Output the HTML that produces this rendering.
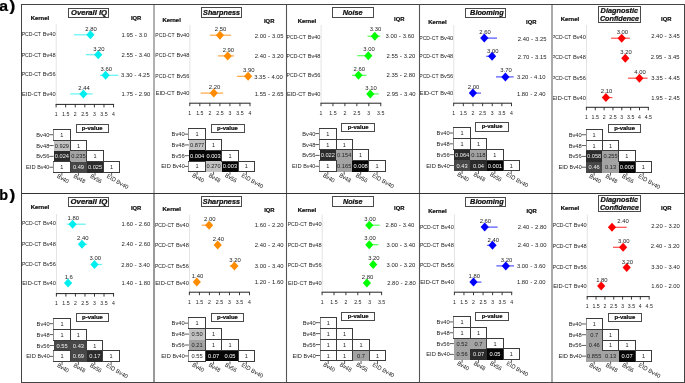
<!DOCTYPE html>
<html><head><meta charset="utf-8"><style>
html,body{margin:0;padding:0;background:#fff;overflow:hidden}
svg{display:block;will-change:transform;filter:blur(0.3px)}
text{font-family:"Liberation Sans", sans-serif} svg{fill:#222}
</style></head><body>
<svg width="685" height="383" viewBox="0 0 685 383">
<rect width="685" height="383" fill="#fff"/>
<line x1="56.20" y1="24.40" x2="56.20" y2="103.90" stroke="#e4e4e4" stroke-width="1"/>
<rect x="68.50" y="8.50" width="40.00" height="9.00" fill="#fff" stroke="#4a4a4a" stroke-width="1"/>
<g transform="translate(71.00,14.90) scale(0.1)"><text font-size="63.50" font-weight="bold" stroke="#111" stroke-width="2.20" font-style="italic" fill="#111" textLength="360.0" lengthAdjust="spacingAndGlyphs">Overall IQ</text></g>
<g transform="translate(30.70,20.00) scale(0.1)"><text font-size="53.00" font-weight="bold" stroke="#111" stroke-width="2.20" fill="#111" textLength="184.0" lengthAdjust="spacingAndGlyphs">Kernel</text></g>
<g transform="translate(130.90,20.20) scale(0.1)"><text font-size="53.00" font-weight="bold" stroke="#111" stroke-width="2.20" fill="#111" textLength="104.0" lengthAdjust="spacingAndGlyphs">IQR</text></g>
<g transform="translate(21.67,36.30) scale(0.1)"><text font-size="61.61" textLength="192.8" lengthAdjust="spacingAndGlyphs">PCD-CT</text></g>
<g transform="translate(42.73,36.30) scale(0.1)"><text font-size="61.61" textLength="128.7" lengthAdjust="spacingAndGlyphs">Bv40</text></g>
<line x1="74.00" y1="34.80" x2="90.40" y2="34.80" stroke="#60f2f2" stroke-width="1.2"/>
<path d="M86.30,34.80L90.40,30.30L94.50,34.80L90.40,39.30Z" fill="#00eeee"/>
<g transform="translate(85.37,30.70) scale(0.1)"><text font-size="61.61" textLength="114.7" lengthAdjust="spacingAndGlyphs">2.80</text></g>
<g transform="translate(121.60,36.90) scale(0.1)"><text font-size="61.61" textLength="114.7" lengthAdjust="spacingAndGlyphs">1.95</text></g>
<g transform="translate(134.84,36.90) scale(0.1)"><text font-size="61.61" textLength="21.8" lengthAdjust="spacingAndGlyphs">-</text></g>
<g transform="translate(138.80,36.90) scale(0.1)"><text font-size="61.61" textLength="82.6" lengthAdjust="spacingAndGlyphs">3.0</text></g>
<g transform="translate(21.67,56.80) scale(0.1)"><text font-size="61.61" textLength="192.8" lengthAdjust="spacingAndGlyphs">PCD-CT</text></g>
<g transform="translate(42.73,56.80) scale(0.1)"><text font-size="61.61" textLength="128.7" lengthAdjust="spacingAndGlyphs">Bv48</text></g>
<line x1="85.80" y1="54.70" x2="102.00" y2="54.70" stroke="#60f2f2" stroke-width="1.2"/>
<path d="M94.10,54.70L98.20,50.20L102.30,54.70L98.20,59.20Z" fill="#00eeee"/>
<g transform="translate(93.17,50.50) scale(0.1)"><text font-size="61.61" textLength="114.7" lengthAdjust="spacingAndGlyphs">3.20</text></g>
<g transform="translate(121.60,56.80) scale(0.1)"><text font-size="61.61" textLength="114.7" lengthAdjust="spacingAndGlyphs">2.55</text></g>
<g transform="translate(134.84,56.80) scale(0.1)"><text font-size="61.61" textLength="21.8" lengthAdjust="spacingAndGlyphs">-</text></g>
<g transform="translate(138.80,56.80) scale(0.1)"><text font-size="61.61" textLength="114.7" lengthAdjust="spacingAndGlyphs">3.40</text></g>
<g transform="translate(21.67,76.00) scale(0.1)"><text font-size="61.61" textLength="192.8" lengthAdjust="spacingAndGlyphs">PCD-CT</text></g>
<g transform="translate(42.73,76.00) scale(0.1)"><text font-size="61.61" textLength="128.7" lengthAdjust="spacingAndGlyphs">Bv56</text></g>
<line x1="100.00" y1="75.30" x2="118.40" y2="75.30" stroke="#60f2f2" stroke-width="1.2"/>
<path d="M101.50,75.30L105.60,70.80L109.70,75.30L105.60,79.80Z" fill="#00eeee"/>
<g transform="translate(100.57,71.20) scale(0.1)"><text font-size="61.61" textLength="114.7" lengthAdjust="spacingAndGlyphs">3.60</text></g>
<g transform="translate(121.00,77.40) scale(0.1)"><text font-size="61.61" textLength="114.7" lengthAdjust="spacingAndGlyphs">3.30</text></g>
<g transform="translate(134.24,77.40) scale(0.1)"><text font-size="61.61" textLength="21.8" lengthAdjust="spacingAndGlyphs">-</text></g>
<g transform="translate(138.20,77.40) scale(0.1)"><text font-size="61.61" textLength="114.7" lengthAdjust="spacingAndGlyphs">4.25</text></g>
<g transform="translate(22.03,95.90) scale(0.1)"><text font-size="61.61" textLength="189.2" lengthAdjust="spacingAndGlyphs">EID-CT</text></g>
<g transform="translate(42.73,95.90) scale(0.1)"><text font-size="61.61" textLength="128.7" lengthAdjust="spacingAndGlyphs">Bv40</text></g>
<line x1="70.30" y1="93.90" x2="92.60" y2="93.90" stroke="#60f2f2" stroke-width="1.2"/>
<path d="M79.30,93.90L83.40,89.40L87.50,93.90L83.40,98.40Z" fill="#00eeee"/>
<g transform="translate(78.37,89.80) scale(0.1)"><text font-size="61.61" textLength="114.7" lengthAdjust="spacingAndGlyphs">2.44</text></g>
<g transform="translate(121.60,96.00) scale(0.1)"><text font-size="61.61" textLength="114.7" lengthAdjust="spacingAndGlyphs">1.75</text></g>
<g transform="translate(134.84,96.00) scale(0.1)"><text font-size="61.61" textLength="21.8" lengthAdjust="spacingAndGlyphs">-</text></g>
<g transform="translate(138.80,96.00) scale(0.1)"><text font-size="61.61" textLength="114.7" lengthAdjust="spacingAndGlyphs">2.90</text></g>
<line x1="55.60" y1="104.40" x2="114.05" y2="104.40" stroke="#222" stroke-width="1"/>
<line x1="56.10" y1="104.40" x2="56.10" y2="107.40" stroke="#222" stroke-width="0.9"/>
<g transform="translate(54.67,115.60) scale(0.1)"><text font-size="61.61" textLength="28.6" lengthAdjust="spacingAndGlyphs">1</text></g>
<line x1="65.67" y1="104.40" x2="65.67" y2="107.40" stroke="#222" stroke-width="0.9"/>
<g transform="translate(62.00,115.60) scale(0.1)"><text font-size="61.61" textLength="73.5" lengthAdjust="spacingAndGlyphs">1.5</text></g>
<line x1="75.25" y1="104.40" x2="75.25" y2="107.40" stroke="#222" stroke-width="0.9"/>
<g transform="translate(73.82,115.60) scale(0.1)"><text font-size="61.61" textLength="28.6" lengthAdjust="spacingAndGlyphs">2</text></g>
<line x1="84.83" y1="104.40" x2="84.83" y2="107.40" stroke="#222" stroke-width="0.9"/>
<g transform="translate(81.15,115.60) scale(0.1)"><text font-size="61.61" textLength="73.5" lengthAdjust="spacingAndGlyphs">2.5</text></g>
<line x1="94.40" y1="104.40" x2="94.40" y2="107.40" stroke="#222" stroke-width="0.9"/>
<g transform="translate(92.97,115.60) scale(0.1)"><text font-size="61.61" textLength="28.6" lengthAdjust="spacingAndGlyphs">3</text></g>
<line x1="103.97" y1="104.40" x2="103.97" y2="107.40" stroke="#222" stroke-width="0.9"/>
<g transform="translate(100.30,115.60) scale(0.1)"><text font-size="61.61" textLength="73.5" lengthAdjust="spacingAndGlyphs">3.5</text></g>
<line x1="113.55" y1="104.40" x2="113.55" y2="107.40" stroke="#222" stroke-width="0.9"/>
<g transform="translate(112.12,115.60) scale(0.1)"><text font-size="61.61" textLength="28.6" lengthAdjust="spacingAndGlyphs">4</text></g>
<rect x="76.50" y="124.50" width="32.00" height="8.00" fill="#fff" stroke="#4a4a4a" stroke-width="1"/>
<g transform="translate(81.85,129.90) scale(0.1)"><text font-size="54.00" font-weight="bold" stroke="#111" stroke-width="2.20" fill="#111" textLength="208.0" lengthAdjust="spacingAndGlyphs">p-value</text></g>
<g transform="translate(36.31,136.77) scale(0.1)"><text font-size="59.78" textLength="129.9" lengthAdjust="spacingAndGlyphs">Bv40</text></g>
<line x1="49.30" y1="134.72" x2="53.60" y2="134.72" stroke="#333" stroke-width="0.8"/>
<rect x="53.60" y="129.30" width="16.58" height="10.83" fill="#ffffff" stroke="none" stroke-width="1" shape-rendering="crispEdges"/>
<g transform="translate(36.31,147.60) scale(0.1)"><text font-size="59.78" textLength="129.9" lengthAdjust="spacingAndGlyphs">Bv48</text></g>
<line x1="49.30" y1="145.55" x2="53.60" y2="145.55" stroke="#333" stroke-width="0.8"/>
<rect x="53.60" y="140.13" width="16.58" height="10.83" fill="#c2c2c2" stroke="none" stroke-width="1" shape-rendering="crispEdges"/>
<rect x="70.18" y="140.13" width="16.58" height="10.83" fill="#ffffff" stroke="none" stroke-width="1" shape-rendering="crispEdges"/>
<g transform="translate(36.31,158.43) scale(0.1)"><text font-size="59.78" textLength="129.9" lengthAdjust="spacingAndGlyphs">Bv56</text></g>
<line x1="49.30" y1="156.38" x2="53.60" y2="156.38" stroke="#333" stroke-width="0.8"/>
<rect x="53.60" y="150.96" width="16.58" height="10.83" fill="#2b2b2b" stroke="none" stroke-width="1" shape-rendering="crispEdges"/>
<rect x="70.18" y="150.96" width="16.58" height="10.83" fill="#a3a3a3" stroke="none" stroke-width="1" shape-rendering="crispEdges"/>
<rect x="86.76" y="150.96" width="16.58" height="10.83" fill="#ffffff" stroke="none" stroke-width="1" shape-rendering="crispEdges"/>
<g transform="translate(26.01,169.26) scale(0.1)"><text font-size="59.78" textLength="95.1" lengthAdjust="spacingAndGlyphs">EID</text></g>
<g transform="translate(37.18,169.26) scale(0.1)"><text font-size="59.78" textLength="121.2" lengthAdjust="spacingAndGlyphs">Bv40</text></g>
<line x1="49.30" y1="167.21" x2="53.60" y2="167.21" stroke="#333" stroke-width="0.8"/>
<rect x="53.60" y="161.79" width="16.58" height="10.83" fill="#ffffff" stroke="none" stroke-width="1" shape-rendering="crispEdges"/>
<rect x="70.18" y="161.79" width="16.58" height="10.83" fill="#474747" stroke="none" stroke-width="1" shape-rendering="crispEdges"/>
<rect x="86.76" y="161.79" width="16.58" height="10.83" fill="#2b2b2b" stroke="none" stroke-width="1" shape-rendering="crispEdges"/>
<rect x="103.34" y="161.79" width="16.58" height="10.83" fill="#ffffff" stroke="none" stroke-width="1" shape-rendering="crispEdges"/>
<rect x="53.50" y="129.50" width="17.00" height="11.00" fill="none" stroke="#3c3c3c" stroke-width="1"/>
<line x1="53.50" y1="130.00" x2="53.50" y2="140.00" stroke="#909090" stroke-width="1"/>
<rect x="70.50" y="140.50" width="16.00" height="10.00" fill="none" stroke="#3c3c3c" stroke-width="1"/>
<rect x="86.50" y="150.50" width="17.00" height="11.00" fill="none" stroke="#3c3c3c" stroke-width="1"/>
<rect x="53.50" y="161.50" width="17.00" height="11.00" fill="none" stroke="#3c3c3c" stroke-width="1"/>
<line x1="53.50" y1="162.00" x2="53.50" y2="172.00" stroke="#909090" stroke-width="1"/>
<rect x="103.50" y="161.50" width="16.00" height="11.00" fill="none" stroke="#3c3c3c" stroke-width="1"/>
<g transform="translate(60.33,136.77) scale(0.1)"><text font-size="59.78" textLength="31.1" lengthAdjust="spacingAndGlyphs">1</text></g>
<g transform="translate(54.77,147.60) scale(0.1)"><text font-size="59.78" textLength="142.4" lengthAdjust="spacingAndGlyphs">0.929</text></g>
<g transform="translate(76.91,147.60) scale(0.1)"><text font-size="59.78" textLength="31.1" lengthAdjust="spacingAndGlyphs">1</text></g>
<g transform="translate(54.77,158.43) scale(0.1)"><text font-size="59.78" fill="#eeeeee" textLength="142.4" lengthAdjust="spacingAndGlyphs">0.024</text></g>
<g transform="translate(71.35,158.43) scale(0.1)"><text font-size="59.78" textLength="142.4" lengthAdjust="spacingAndGlyphs">0.235</text></g>
<g transform="translate(93.49,158.43) scale(0.1)"><text font-size="59.78" textLength="31.1" lengthAdjust="spacingAndGlyphs">1</text></g>
<g transform="translate(60.33,169.26) scale(0.1)"><text font-size="59.78" textLength="31.1" lengthAdjust="spacingAndGlyphs">1</text></g>
<g transform="translate(72.91,169.26) scale(0.1)"><text font-size="59.78" fill="#f2f2f2" textLength="111.3" lengthAdjust="spacingAndGlyphs">0.49</text></g>
<g transform="translate(87.93,169.26) scale(0.1)"><text font-size="59.78" fill="#eeeeee" textLength="142.4" lengthAdjust="spacingAndGlyphs">0.025</text></g>
<g transform="translate(110.07,169.26) scale(0.1)"><text font-size="59.78" textLength="31.1" lengthAdjust="spacingAndGlyphs">1</text></g>
<line x1="61.89" y1="172.62" x2="61.89" y2="175.62" stroke="#333" stroke-width="0.8"/>
<g transform="translate(56.49,177.32) rotate(30) scale(0.1)"><text font-size="59.78" fill="#111" textLength="124.9" lengthAdjust="spacingAndGlyphs">Bv40</text></g>
<line x1="78.47" y1="172.62" x2="78.47" y2="175.62" stroke="#333" stroke-width="0.8"/>
<g transform="translate(73.07,177.32) rotate(30) scale(0.1)"><text font-size="59.78" fill="#111" textLength="124.9" lengthAdjust="spacingAndGlyphs">Bv48</text></g>
<line x1="95.05" y1="172.62" x2="95.05" y2="175.62" stroke="#333" stroke-width="0.8"/>
<g transform="translate(89.65,177.32) rotate(30) scale(0.1)"><text font-size="59.78" fill="#111" textLength="124.9" lengthAdjust="spacingAndGlyphs">Bv56</text></g>
<line x1="111.63" y1="172.62" x2="111.63" y2="175.62" stroke="#333" stroke-width="0.8"/>
<g transform="translate(106.23,177.32) rotate(30) scale(0.1)"><text font-size="59.78" fill="#111" textLength="240.1" lengthAdjust="spacingAndGlyphs">EID Bv40</text></g>
<line x1="189.90" y1="25.00" x2="189.90" y2="102.70" stroke="#e4e4e4" stroke-width="1"/>
<rect x="201.50" y="7.50" width="40.00" height="10.00" fill="#fff" stroke="#4a4a4a" stroke-width="1"/>
<g transform="translate(203.10,14.70) scale(0.1)"><text font-size="63.50" font-weight="bold" stroke="#111" stroke-width="2.20" font-style="italic" fill="#111" textLength="368.0" lengthAdjust="spacingAndGlyphs">Sharpness</text></g>
<g transform="translate(162.40,22.20) scale(0.1)"><text font-size="53.00" font-weight="bold" stroke="#111" stroke-width="2.20" fill="#111" textLength="184.0" lengthAdjust="spacingAndGlyphs">Kernel</text></g>
<g transform="translate(264.00,22.90) scale(0.1)"><text font-size="53.00" font-weight="bold" stroke="#111" stroke-width="2.20" fill="#111" textLength="104.0" lengthAdjust="spacingAndGlyphs">IQR</text></g>
<g transform="translate(155.37,36.90) scale(0.1)"><text font-size="61.61" textLength="192.8" lengthAdjust="spacingAndGlyphs">PCD-CT</text></g>
<g transform="translate(176.43,36.90) scale(0.1)"><text font-size="61.61" textLength="128.7" lengthAdjust="spacingAndGlyphs">Bv40</text></g>
<line x1="209.90" y1="35.20" x2="231.00" y2="35.20" stroke="#ffa640" stroke-width="1.2"/>
<path d="M215.80,35.20L219.90,30.70L224.00,35.20L219.90,39.70Z" fill="#ff8c00"/>
<g transform="translate(214.87,30.70) scale(0.1)"><text font-size="61.61" textLength="114.7" lengthAdjust="spacingAndGlyphs">2.50</text></g>
<g transform="translate(254.80,37.90) scale(0.1)"><text font-size="61.61" textLength="114.7" lengthAdjust="spacingAndGlyphs">2.00</text></g>
<g transform="translate(268.04,37.90) scale(0.1)"><text font-size="61.61" textLength="21.8" lengthAdjust="spacingAndGlyphs">-</text></g>
<g transform="translate(272.00,37.90) scale(0.1)"><text font-size="61.61" textLength="114.7" lengthAdjust="spacingAndGlyphs">3.05</text></g>
<g transform="translate(155.37,57.40) scale(0.1)"><text font-size="61.61" textLength="192.8" lengthAdjust="spacingAndGlyphs">PCD-CT</text></g>
<g transform="translate(176.43,57.40) scale(0.1)"><text font-size="61.61" textLength="128.7" lengthAdjust="spacingAndGlyphs">Bv48</text></g>
<line x1="217.90" y1="55.90" x2="234.00" y2="55.90" stroke="#ffa640" stroke-width="1.2"/>
<path d="M223.60,55.90L227.70,51.40L231.80,55.90L227.70,60.40Z" fill="#ff8c00"/>
<g transform="translate(222.67,52.10) scale(0.1)"><text font-size="61.61" textLength="114.7" lengthAdjust="spacingAndGlyphs">2.90</text></g>
<g transform="translate(254.80,58.10) scale(0.1)"><text font-size="61.61" textLength="114.7" lengthAdjust="spacingAndGlyphs">2.40</text></g>
<g transform="translate(268.04,58.10) scale(0.1)"><text font-size="61.61" textLength="21.8" lengthAdjust="spacingAndGlyphs">-</text></g>
<g transform="translate(272.00,58.10) scale(0.1)"><text font-size="61.61" textLength="114.7" lengthAdjust="spacingAndGlyphs">3.20</text></g>
<g transform="translate(155.37,78.10) scale(0.1)"><text font-size="61.61" textLength="192.8" lengthAdjust="spacingAndGlyphs">PCD-CT</text></g>
<g transform="translate(176.43,78.10) scale(0.1)"><text font-size="61.61" textLength="128.7" lengthAdjust="spacingAndGlyphs">Bv56</text></g>
<line x1="236.90" y1="76.30" x2="248.10" y2="76.30" stroke="#ffa640" stroke-width="1.2"/>
<path d="M244.00,76.30L248.10,71.80L252.20,76.30L248.10,80.80Z" fill="#ff8c00"/>
<g transform="translate(243.07,72.20) scale(0.1)"><text font-size="61.61" textLength="114.7" lengthAdjust="spacingAndGlyphs">3.90</text></g>
<g transform="translate(254.20,79.10) scale(0.1)"><text font-size="61.61" textLength="114.7" lengthAdjust="spacingAndGlyphs">3.35</text></g>
<g transform="translate(267.44,79.10) scale(0.1)"><text font-size="61.61" textLength="21.8" lengthAdjust="spacingAndGlyphs">-</text></g>
<g transform="translate(271.40,79.10) scale(0.1)"><text font-size="61.61" textLength="114.7" lengthAdjust="spacingAndGlyphs">4.00</text></g>
<g transform="translate(155.73,95.10) scale(0.1)"><text font-size="61.61" textLength="189.2" lengthAdjust="spacingAndGlyphs">EID-CT</text></g>
<g transform="translate(176.43,95.10) scale(0.1)"><text font-size="61.61" textLength="128.7" lengthAdjust="spacingAndGlyphs">Bv40</text></g>
<line x1="200.70" y1="93.10" x2="223.20" y2="93.10" stroke="#ffa640" stroke-width="1.2"/>
<path d="M209.70,93.10L213.80,88.60L217.90,93.10L213.80,97.60Z" fill="#ff8c00"/>
<g transform="translate(208.77,88.80) scale(0.1)"><text font-size="61.61" textLength="114.7" lengthAdjust="spacingAndGlyphs">2.20</text></g>
<g transform="translate(254.80,96.10) scale(0.1)"><text font-size="61.61" textLength="114.7" lengthAdjust="spacingAndGlyphs">1.55</text></g>
<g transform="translate(268.04,96.10) scale(0.1)"><text font-size="61.61" textLength="21.8" lengthAdjust="spacingAndGlyphs">-</text></g>
<g transform="translate(272.00,96.10) scale(0.1)"><text font-size="61.61" textLength="114.7" lengthAdjust="spacingAndGlyphs">2.65</text></g>
<line x1="189.30" y1="103.20" x2="250.48" y2="103.20" stroke="#222" stroke-width="1"/>
<line x1="189.80" y1="103.20" x2="189.80" y2="106.20" stroke="#222" stroke-width="0.9"/>
<g transform="translate(188.37,114.60) scale(0.1)"><text font-size="61.61" textLength="28.6" lengthAdjust="spacingAndGlyphs">1</text></g>
<line x1="199.83" y1="103.20" x2="199.83" y2="106.20" stroke="#222" stroke-width="0.9"/>
<g transform="translate(196.16,114.60) scale(0.1)"><text font-size="61.61" textLength="73.5" lengthAdjust="spacingAndGlyphs">1.5</text></g>
<line x1="209.86" y1="103.20" x2="209.86" y2="106.20" stroke="#222" stroke-width="0.9"/>
<g transform="translate(208.43,114.60) scale(0.1)"><text font-size="61.61" textLength="28.6" lengthAdjust="spacingAndGlyphs">2</text></g>
<line x1="219.89" y1="103.20" x2="219.89" y2="106.20" stroke="#222" stroke-width="0.9"/>
<g transform="translate(216.22,114.60) scale(0.1)"><text font-size="61.61" textLength="73.5" lengthAdjust="spacingAndGlyphs">2.5</text></g>
<line x1="229.92" y1="103.20" x2="229.92" y2="106.20" stroke="#222" stroke-width="0.9"/>
<g transform="translate(228.49,114.60) scale(0.1)"><text font-size="61.61" textLength="28.6" lengthAdjust="spacingAndGlyphs">3</text></g>
<line x1="239.95" y1="103.20" x2="239.95" y2="106.20" stroke="#222" stroke-width="0.9"/>
<g transform="translate(236.28,114.60) scale(0.1)"><text font-size="61.61" textLength="73.5" lengthAdjust="spacingAndGlyphs">3.5</text></g>
<line x1="249.98" y1="103.20" x2="249.98" y2="106.20" stroke="#222" stroke-width="0.9"/>
<g transform="translate(248.55,114.60) scale(0.1)"><text font-size="61.61" textLength="28.6" lengthAdjust="spacingAndGlyphs">4</text></g>
<rect x="211.50" y="124.50" width="33.00" height="8.00" fill="#fff" stroke="#4a4a4a" stroke-width="1"/>
<g transform="translate(217.10,129.60) scale(0.1)"><text font-size="54.00" font-weight="bold" stroke="#111" stroke-width="2.20" fill="#111" textLength="208.0" lengthAdjust="spacingAndGlyphs">p-value</text></g>
<g transform="translate(171.61,136.23) scale(0.1)"><text font-size="59.78" textLength="129.9" lengthAdjust="spacingAndGlyphs">Bv40</text></g>
<line x1="184.60" y1="134.18" x2="188.90" y2="134.18" stroke="#333" stroke-width="0.8"/>
<rect x="188.90" y="128.80" width="16.43" height="10.75" fill="#ffffff" stroke="none" stroke-width="1" shape-rendering="crispEdges"/>
<g transform="translate(171.61,146.98) scale(0.1)"><text font-size="59.78" textLength="129.9" lengthAdjust="spacingAndGlyphs">Bv48</text></g>
<line x1="184.60" y1="144.93" x2="188.90" y2="144.93" stroke="#333" stroke-width="0.8"/>
<rect x="188.90" y="139.55" width="16.43" height="10.75" fill="#c2c2c2" stroke="none" stroke-width="1" shape-rendering="crispEdges"/>
<rect x="205.33" y="139.55" width="16.43" height="10.75" fill="#ffffff" stroke="none" stroke-width="1" shape-rendering="crispEdges"/>
<g transform="translate(171.61,157.73) scale(0.1)"><text font-size="59.78" textLength="129.9" lengthAdjust="spacingAndGlyphs">Bv56</text></g>
<line x1="184.60" y1="155.68" x2="188.90" y2="155.68" stroke="#333" stroke-width="0.8"/>
<rect x="188.90" y="150.30" width="16.43" height="10.75" fill="#060606" stroke="none" stroke-width="1" shape-rendering="crispEdges"/>
<rect x="205.33" y="150.30" width="16.43" height="10.75" fill="#060606" stroke="none" stroke-width="1" shape-rendering="crispEdges"/>
<rect x="221.76" y="150.30" width="16.43" height="10.75" fill="#ffffff" stroke="none" stroke-width="1" shape-rendering="crispEdges"/>
<g transform="translate(161.31,168.48) scale(0.1)"><text font-size="59.78" textLength="95.1" lengthAdjust="spacingAndGlyphs">EID</text></g>
<g transform="translate(172.48,168.48) scale(0.1)"><text font-size="59.78" textLength="121.2" lengthAdjust="spacingAndGlyphs">Bv40</text></g>
<line x1="184.60" y1="166.43" x2="188.90" y2="166.43" stroke="#333" stroke-width="0.8"/>
<rect x="188.90" y="161.05" width="16.43" height="10.75" fill="#ffffff" stroke="none" stroke-width="1" shape-rendering="crispEdges"/>
<rect x="205.33" y="161.05" width="16.43" height="10.75" fill="#c2c2c2" stroke="none" stroke-width="1" shape-rendering="crispEdges"/>
<rect x="221.76" y="161.05" width="16.43" height="10.75" fill="#060606" stroke="none" stroke-width="1" shape-rendering="crispEdges"/>
<rect x="238.19" y="161.05" width="16.43" height="10.75" fill="#ffffff" stroke="none" stroke-width="1" shape-rendering="crispEdges"/>
<rect x="188.50" y="128.50" width="17.00" height="11.00" fill="none" stroke="#3c3c3c" stroke-width="1"/>
<line x1="188.50" y1="129.00" x2="188.50" y2="139.00" stroke="#909090" stroke-width="1"/>
<rect x="205.50" y="139.50" width="16.00" height="11.00" fill="none" stroke="#3c3c3c" stroke-width="1"/>
<rect x="221.50" y="150.50" width="17.00" height="11.00" fill="none" stroke="#3c3c3c" stroke-width="1"/>
<rect x="188.50" y="161.50" width="17.00" height="10.00" fill="none" stroke="#3c3c3c" stroke-width="1"/>
<line x1="188.50" y1="162.00" x2="188.50" y2="171.00" stroke="#909090" stroke-width="1"/>
<rect x="238.50" y="161.50" width="16.00" height="10.00" fill="none" stroke="#3c3c3c" stroke-width="1"/>
<g transform="translate(195.56,136.23) scale(0.1)"><text font-size="59.78" textLength="31.1" lengthAdjust="spacingAndGlyphs">1</text></g>
<g transform="translate(189.99,146.98) scale(0.1)"><text font-size="59.78" textLength="142.4" lengthAdjust="spacingAndGlyphs">0.877</text></g>
<g transform="translate(211.99,146.98) scale(0.1)"><text font-size="59.78" textLength="31.1" lengthAdjust="spacingAndGlyphs">1</text></g>
<g transform="translate(189.99,157.73) scale(0.1)"><text font-size="59.78" fill="#ffffff" textLength="142.4" lengthAdjust="spacingAndGlyphs">0.004</text></g>
<g transform="translate(206.42,157.73) scale(0.1)"><text font-size="59.78" fill="#ffffff" textLength="142.4" lengthAdjust="spacingAndGlyphs">0.003</text></g>
<g transform="translate(228.42,157.73) scale(0.1)"><text font-size="59.78" textLength="31.1" lengthAdjust="spacingAndGlyphs">1</text></g>
<g transform="translate(195.56,168.48) scale(0.1)"><text font-size="59.78" textLength="31.1" lengthAdjust="spacingAndGlyphs">1</text></g>
<g transform="translate(206.42,168.48) scale(0.1)"><text font-size="59.78" textLength="142.4" lengthAdjust="spacingAndGlyphs">0.270</text></g>
<g transform="translate(222.85,168.48) scale(0.1)"><text font-size="59.78" fill="#ffffff" textLength="142.4" lengthAdjust="spacingAndGlyphs">0.003</text></g>
<g transform="translate(244.85,168.48) scale(0.1)"><text font-size="59.78" textLength="31.1" lengthAdjust="spacingAndGlyphs">1</text></g>
<line x1="197.12" y1="171.80" x2="197.12" y2="174.80" stroke="#333" stroke-width="0.8"/>
<g transform="translate(191.72,176.50) rotate(30) scale(0.1)"><text font-size="59.78" fill="#111" textLength="124.9" lengthAdjust="spacingAndGlyphs">Bv40</text></g>
<line x1="213.55" y1="171.80" x2="213.55" y2="174.80" stroke="#333" stroke-width="0.8"/>
<g transform="translate(208.15,176.50) rotate(30) scale(0.1)"><text font-size="59.78" fill="#111" textLength="124.9" lengthAdjust="spacingAndGlyphs">Bv48</text></g>
<line x1="229.98" y1="171.80" x2="229.98" y2="174.80" stroke="#333" stroke-width="0.8"/>
<g transform="translate(224.58,176.50) rotate(30) scale(0.1)"><text font-size="59.78" fill="#111" textLength="124.9" lengthAdjust="spacingAndGlyphs">Bv56</text></g>
<line x1="246.41" y1="171.80" x2="246.41" y2="174.80" stroke="#333" stroke-width="0.8"/>
<g transform="translate(241.00,176.50) rotate(30) scale(0.1)"><text font-size="59.78" fill="#111" textLength="240.1" lengthAdjust="spacingAndGlyphs">EID Bv40</text></g>
<line x1="321.10" y1="25.00" x2="321.10" y2="102.70" stroke="#e4e4e4" stroke-width="1"/>
<rect x="332.50" y="7.50" width="41.00" height="10.00" fill="#fff" stroke="#4a4a4a" stroke-width="1"/>
<g transform="translate(342.70,14.50) scale(0.1)"><text font-size="63.50" font-weight="bold" stroke="#111" stroke-width="2.20" font-style="italic" fill="#111" textLength="199.0" lengthAdjust="spacingAndGlyphs">Noise</text></g>
<g transform="translate(297.70,22.90) scale(0.1)"><text font-size="53.00" font-weight="bold" stroke="#111" stroke-width="2.20" fill="#111" textLength="184.0" lengthAdjust="spacingAndGlyphs">Kernel</text></g>
<g transform="translate(394.10,20.90) scale(0.1)"><text font-size="53.00" font-weight="bold" stroke="#111" stroke-width="2.20" fill="#111" textLength="104.0" lengthAdjust="spacingAndGlyphs">IQR</text></g>
<g transform="translate(286.57,38.80) scale(0.1)"><text font-size="61.61" textLength="192.8" lengthAdjust="spacingAndGlyphs">PCD-CT</text></g>
<g transform="translate(307.63,38.80) scale(0.1)"><text font-size="61.61" textLength="128.7" lengthAdjust="spacingAndGlyphs">Bv40</text></g>
<line x1="367.50" y1="36.20" x2="380.30" y2="36.20" stroke="#55ff55" stroke-width="1.2"/>
<path d="M370.70,36.20L374.80,31.70L378.90,36.20L374.80,40.70Z" fill="#00ff00"/>
<g transform="translate(369.77,30.70) scale(0.1)"><text font-size="61.61" textLength="114.7" lengthAdjust="spacingAndGlyphs">3.30</text></g>
<g transform="translate(385.60,38.30) scale(0.1)"><text font-size="61.61" textLength="114.7" lengthAdjust="spacingAndGlyphs">3.00</text></g>
<g transform="translate(398.84,38.30) scale(0.1)"><text font-size="61.61" textLength="21.8" lengthAdjust="spacingAndGlyphs">-</text></g>
<g transform="translate(402.80,38.30) scale(0.1)"><text font-size="61.61" textLength="114.7" lengthAdjust="spacingAndGlyphs">3.60</text></g>
<g transform="translate(286.57,58.00) scale(0.1)"><text font-size="61.61" textLength="192.8" lengthAdjust="spacingAndGlyphs">PCD-CT</text></g>
<g transform="translate(307.63,58.00) scale(0.1)"><text font-size="61.61" textLength="128.7" lengthAdjust="spacingAndGlyphs">Bv48</text></g>
<line x1="357.20" y1="55.70" x2="368.30" y2="55.70" stroke="#55ff55" stroke-width="1.2"/>
<path d="M364.20,55.70L368.30,51.20L372.40,55.70L368.30,60.20Z" fill="#00ff00"/>
<g transform="translate(363.27,51.30) scale(0.1)"><text font-size="61.61" textLength="114.7" lengthAdjust="spacingAndGlyphs">3.00</text></g>
<g transform="translate(386.60,57.80) scale(0.1)"><text font-size="61.61" textLength="114.7" lengthAdjust="spacingAndGlyphs">2.55</text></g>
<g transform="translate(399.84,57.80) scale(0.1)"><text font-size="61.61" textLength="21.8" lengthAdjust="spacingAndGlyphs">-</text></g>
<g transform="translate(403.80,57.80) scale(0.1)"><text font-size="61.61" textLength="114.7" lengthAdjust="spacingAndGlyphs">3.20</text></g>
<g transform="translate(286.57,77.00) scale(0.1)"><text font-size="61.61" textLength="192.8" lengthAdjust="spacingAndGlyphs">PCD-CT</text></g>
<g transform="translate(307.63,77.00) scale(0.1)"><text font-size="61.61" textLength="128.7" lengthAdjust="spacingAndGlyphs">Bv56</text></g>
<line x1="351.90" y1="75.30" x2="366.60" y2="75.30" stroke="#55ff55" stroke-width="1.2"/>
<path d="M354.40,75.30L358.50,70.80L362.60,75.30L358.50,79.80Z" fill="#00ff00"/>
<g transform="translate(353.47,70.60) scale(0.1)"><text font-size="61.61" textLength="114.7" lengthAdjust="spacingAndGlyphs">2.60</text></g>
<g transform="translate(386.60,77.40) scale(0.1)"><text font-size="61.61" textLength="114.7" lengthAdjust="spacingAndGlyphs">2.35</text></g>
<g transform="translate(399.84,77.40) scale(0.1)"><text font-size="61.61" textLength="21.8" lengthAdjust="spacingAndGlyphs">-</text></g>
<g transform="translate(403.80,77.40) scale(0.1)"><text font-size="61.61" textLength="114.7" lengthAdjust="spacingAndGlyphs">2.80</text></g>
<g transform="translate(286.93,95.50) scale(0.1)"><text font-size="61.61" textLength="189.2" lengthAdjust="spacingAndGlyphs">EID-CT</text></g>
<g transform="translate(307.63,95.50) scale(0.1)"><text font-size="61.61" textLength="128.7" lengthAdjust="spacingAndGlyphs">Bv40</text></g>
<line x1="370.30" y1="93.90" x2="378.70" y2="93.90" stroke="#55ff55" stroke-width="1.2"/>
<path d="M366.20,93.90L370.30,89.40L374.40,93.90L370.30,98.40Z" fill="#00ff00"/>
<g transform="translate(365.27,89.80) scale(0.1)"><text font-size="61.61" textLength="114.7" lengthAdjust="spacingAndGlyphs">3.10</text></g>
<g transform="translate(386.80,96.00) scale(0.1)"><text font-size="61.61" textLength="114.7" lengthAdjust="spacingAndGlyphs">2.95</text></g>
<g transform="translate(400.04,96.00) scale(0.1)"><text font-size="61.61" textLength="21.8" lengthAdjust="spacingAndGlyphs">-</text></g>
<g transform="translate(404.00,96.00) scale(0.1)"><text font-size="61.61" textLength="114.7" lengthAdjust="spacingAndGlyphs">3.40</text></g>
<line x1="320.50" y1="103.20" x2="381.25" y2="103.20" stroke="#222" stroke-width="1"/>
<line x1="321.00" y1="103.20" x2="321.00" y2="106.20" stroke="#222" stroke-width="0.9"/>
<g transform="translate(319.57,114.60) scale(0.1)"><text font-size="61.61" textLength="28.6" lengthAdjust="spacingAndGlyphs">1</text></g>
<line x1="332.95" y1="103.20" x2="332.95" y2="106.20" stroke="#222" stroke-width="0.9"/>
<g transform="translate(329.28,114.60) scale(0.1)"><text font-size="61.61" textLength="73.5" lengthAdjust="spacingAndGlyphs">1.5</text></g>
<line x1="344.90" y1="103.20" x2="344.90" y2="106.20" stroke="#222" stroke-width="0.9"/>
<g transform="translate(343.47,114.60) scale(0.1)"><text font-size="61.61" textLength="28.6" lengthAdjust="spacingAndGlyphs">2</text></g>
<line x1="356.85" y1="103.20" x2="356.85" y2="106.20" stroke="#222" stroke-width="0.9"/>
<g transform="translate(353.18,114.60) scale(0.1)"><text font-size="61.61" textLength="73.5" lengthAdjust="spacingAndGlyphs">2.5</text></g>
<line x1="368.80" y1="103.20" x2="368.80" y2="106.20" stroke="#222" stroke-width="0.9"/>
<g transform="translate(367.37,114.60) scale(0.1)"><text font-size="61.61" textLength="28.6" lengthAdjust="spacingAndGlyphs">3</text></g>
<line x1="380.75" y1="103.20" x2="380.75" y2="106.20" stroke="#222" stroke-width="0.9"/>
<g transform="translate(377.08,114.60) scale(0.1)"><text font-size="61.61" textLength="73.5" lengthAdjust="spacingAndGlyphs">3.5</text></g>
<rect x="341.50" y="123.50" width="33.00" height="8.00" fill="#fff" stroke="#4a4a4a" stroke-width="1"/>
<g transform="translate(347.85,129.30) scale(0.1)"><text font-size="54.00" font-weight="bold" stroke="#111" stroke-width="2.20" fill="#111" textLength="208.0" lengthAdjust="spacingAndGlyphs">p-value</text></g>
<g transform="translate(302.31,135.61) scale(0.1)"><text font-size="59.78" textLength="129.9" lengthAdjust="spacingAndGlyphs">Bv40</text></g>
<line x1="315.30" y1="133.56" x2="319.60" y2="133.56" stroke="#333" stroke-width="0.8"/>
<rect x="319.60" y="128.10" width="16.42" height="10.92" fill="#ffffff" stroke="none" stroke-width="1" shape-rendering="crispEdges"/>
<g transform="translate(302.31,146.53) scale(0.1)"><text font-size="59.78" textLength="129.9" lengthAdjust="spacingAndGlyphs">Bv48</text></g>
<line x1="315.30" y1="144.48" x2="319.60" y2="144.48" stroke="#333" stroke-width="0.8"/>
<rect x="319.60" y="139.02" width="16.42" height="10.92" fill="#ffffff" stroke="none" stroke-width="1" shape-rendering="crispEdges"/>
<rect x="336.02" y="139.02" width="16.42" height="10.92" fill="#ffffff" stroke="none" stroke-width="1" shape-rendering="crispEdges"/>
<g transform="translate(302.31,157.45) scale(0.1)"><text font-size="59.78" textLength="129.9" lengthAdjust="spacingAndGlyphs">Bv56</text></g>
<line x1="315.30" y1="155.40" x2="319.60" y2="155.40" stroke="#333" stroke-width="0.8"/>
<rect x="319.60" y="149.94" width="16.42" height="10.92" fill="#2b2b2b" stroke="none" stroke-width="1" shape-rendering="crispEdges"/>
<rect x="336.02" y="149.94" width="16.42" height="10.92" fill="#a3a3a3" stroke="none" stroke-width="1" shape-rendering="crispEdges"/>
<rect x="352.44" y="149.94" width="16.42" height="10.92" fill="#ffffff" stroke="none" stroke-width="1" shape-rendering="crispEdges"/>
<g transform="translate(292.01,168.37) scale(0.1)"><text font-size="59.78" textLength="95.1" lengthAdjust="spacingAndGlyphs">EID</text></g>
<g transform="translate(303.18,168.37) scale(0.1)"><text font-size="59.78" textLength="121.2" lengthAdjust="spacingAndGlyphs">Bv40</text></g>
<line x1="315.30" y1="166.32" x2="319.60" y2="166.32" stroke="#333" stroke-width="0.8"/>
<rect x="319.60" y="160.86" width="16.42" height="10.92" fill="#ffffff" stroke="none" stroke-width="1" shape-rendering="crispEdges"/>
<rect x="336.02" y="160.86" width="16.42" height="10.92" fill="#a3a3a3" stroke="none" stroke-width="1" shape-rendering="crispEdges"/>
<rect x="352.44" y="160.86" width="16.42" height="10.92" fill="#060606" stroke="none" stroke-width="1" shape-rendering="crispEdges"/>
<rect x="368.86" y="160.86" width="16.42" height="10.92" fill="#ffffff" stroke="none" stroke-width="1" shape-rendering="crispEdges"/>
<rect x="319.50" y="128.50" width="17.00" height="11.00" fill="none" stroke="#3c3c3c" stroke-width="1"/>
<line x1="319.50" y1="129.00" x2="319.50" y2="139.00" stroke="#909090" stroke-width="1"/>
<rect x="319.50" y="139.50" width="17.00" height="10.00" fill="none" stroke="#3c3c3c" stroke-width="1"/>
<line x1="319.50" y1="140.00" x2="319.50" y2="149.00" stroke="#909090" stroke-width="1"/>
<rect x="336.50" y="139.50" width="16.00" height="10.00" fill="none" stroke="#3c3c3c" stroke-width="1"/>
<rect x="352.50" y="149.50" width="16.00" height="11.00" fill="none" stroke="#3c3c3c" stroke-width="1"/>
<rect x="319.50" y="160.50" width="17.00" height="11.00" fill="none" stroke="#3c3c3c" stroke-width="1"/>
<line x1="319.50" y1="161.00" x2="319.50" y2="171.00" stroke="#909090" stroke-width="1"/>
<rect x="368.50" y="160.50" width="17.00" height="11.00" fill="none" stroke="#3c3c3c" stroke-width="1"/>
<g transform="translate(326.25,135.61) scale(0.1)"><text font-size="59.78" textLength="31.1" lengthAdjust="spacingAndGlyphs">1</text></g>
<g transform="translate(326.25,146.53) scale(0.1)"><text font-size="59.78" textLength="31.1" lengthAdjust="spacingAndGlyphs">1</text></g>
<g transform="translate(342.67,146.53) scale(0.1)"><text font-size="59.78" textLength="31.1" lengthAdjust="spacingAndGlyphs">1</text></g>
<g transform="translate(320.69,157.45) scale(0.1)"><text font-size="59.78" fill="#eeeeee" textLength="142.4" lengthAdjust="spacingAndGlyphs">0.022</text></g>
<g transform="translate(337.11,157.45) scale(0.1)"><text font-size="59.78" textLength="142.4" lengthAdjust="spacingAndGlyphs">0.154</text></g>
<g transform="translate(359.09,157.45) scale(0.1)"><text font-size="59.78" textLength="31.1" lengthAdjust="spacingAndGlyphs">1</text></g>
<g transform="translate(326.25,168.37) scale(0.1)"><text font-size="59.78" textLength="31.1" lengthAdjust="spacingAndGlyphs">1</text></g>
<g transform="translate(337.11,168.37) scale(0.1)"><text font-size="59.78" textLength="142.4" lengthAdjust="spacingAndGlyphs">0.165</text></g>
<g transform="translate(353.53,168.37) scale(0.1)"><text font-size="59.78" fill="#ffffff" textLength="142.4" lengthAdjust="spacingAndGlyphs">0.008</text></g>
<g transform="translate(375.51,168.37) scale(0.1)"><text font-size="59.78" textLength="31.1" lengthAdjust="spacingAndGlyphs">1</text></g>
<line x1="327.81" y1="171.78" x2="327.81" y2="174.78" stroke="#333" stroke-width="0.8"/>
<g transform="translate(322.41,176.48) rotate(30) scale(0.1)"><text font-size="59.78" fill="#111" textLength="124.9" lengthAdjust="spacingAndGlyphs">Bv40</text></g>
<line x1="344.23" y1="171.78" x2="344.23" y2="174.78" stroke="#333" stroke-width="0.8"/>
<g transform="translate(338.83,176.48) rotate(30) scale(0.1)"><text font-size="59.78" fill="#111" textLength="124.9" lengthAdjust="spacingAndGlyphs">Bv48</text></g>
<line x1="360.65" y1="171.78" x2="360.65" y2="174.78" stroke="#333" stroke-width="0.8"/>
<g transform="translate(355.25,176.48) rotate(30) scale(0.1)"><text font-size="59.78" fill="#111" textLength="124.9" lengthAdjust="spacingAndGlyphs">Bv56</text></g>
<line x1="377.07" y1="171.78" x2="377.07" y2="174.78" stroke="#333" stroke-width="0.8"/>
<g transform="translate(371.67,176.48) rotate(30) scale(0.1)"><text font-size="59.78" fill="#111" textLength="240.1" lengthAdjust="spacingAndGlyphs">EID Bv40</text></g>
<line x1="453.80" y1="25.00" x2="453.80" y2="102.70" stroke="#e4e4e4" stroke-width="1"/>
<rect x="465.50" y="8.50" width="40.00" height="9.00" fill="#fff" stroke="#4a4a4a" stroke-width="1"/>
<g transform="translate(470.10,14.50) scale(0.1)"><text font-size="63.50" font-weight="bold" stroke="#111" stroke-width="2.20" font-style="italic" fill="#111" textLength="337.0" lengthAdjust="spacingAndGlyphs">Blooming</text></g>
<g transform="translate(428.20,23.90) scale(0.1)"><text font-size="53.00" font-weight="bold" stroke="#111" stroke-width="2.20" fill="#111" textLength="184.0" lengthAdjust="spacingAndGlyphs">Kernel</text></g>
<g transform="translate(526.10,24.20) scale(0.1)"><text font-size="53.00" font-weight="bold" stroke="#111" stroke-width="2.20" fill="#111" textLength="104.0" lengthAdjust="spacingAndGlyphs">IQR</text></g>
<g transform="translate(419.27,40.20) scale(0.1)"><text font-size="61.61" textLength="192.8" lengthAdjust="spacingAndGlyphs">PCD-CT</text></g>
<g transform="translate(440.33,40.20) scale(0.1)"><text font-size="61.61" textLength="128.7" lengthAdjust="spacingAndGlyphs">Bv40</text></g>
<line x1="484.30" y1="38.10" x2="497.00" y2="38.10" stroke="#5050ff" stroke-width="1.2"/>
<path d="M480.20,38.10L484.30,33.60L488.40,38.10L484.30,42.60Z" fill="#0000ff"/>
<g transform="translate(479.27,33.50) scale(0.1)"><text font-size="61.61" textLength="114.7" lengthAdjust="spacingAndGlyphs">2.60</text></g>
<g transform="translate(517.80,40.80) scale(0.1)"><text font-size="61.61" textLength="114.7" lengthAdjust="spacingAndGlyphs">2.40</text></g>
<g transform="translate(531.04,40.80) scale(0.1)"><text font-size="61.61" textLength="21.8" lengthAdjust="spacingAndGlyphs">-</text></g>
<g transform="translate(535.00,40.80) scale(0.1)"><text font-size="61.61" textLength="114.7" lengthAdjust="spacingAndGlyphs">3.25</text></g>
<g transform="translate(419.27,58.40) scale(0.1)"><text font-size="61.61" textLength="192.8" lengthAdjust="spacingAndGlyphs">PCD-CT</text></g>
<g transform="translate(440.33,58.40) scale(0.1)"><text font-size="61.61" textLength="128.7" lengthAdjust="spacingAndGlyphs">Bv48</text></g>
<line x1="486.20" y1="56.30" x2="492.10" y2="56.30" stroke="#5050ff" stroke-width="1.2"/>
<path d="M488.00,56.30L492.10,51.80L496.20,56.30L492.10,60.80Z" fill="#0000ff"/>
<g transform="translate(487.07,52.60) scale(0.1)"><text font-size="61.61" textLength="114.7" lengthAdjust="spacingAndGlyphs">3.00</text></g>
<g transform="translate(517.80,58.90) scale(0.1)"><text font-size="61.61" textLength="114.7" lengthAdjust="spacingAndGlyphs">2.70</text></g>
<g transform="translate(531.04,58.90) scale(0.1)"><text font-size="61.61" textLength="21.8" lengthAdjust="spacingAndGlyphs">-</text></g>
<g transform="translate(535.00,58.90) scale(0.1)"><text font-size="61.61" textLength="114.7" lengthAdjust="spacingAndGlyphs">3.15</text></g>
<g transform="translate(419.27,78.30) scale(0.1)"><text font-size="61.61" textLength="192.8" lengthAdjust="spacingAndGlyphs">PCD-CT</text></g>
<g transform="translate(440.33,78.30) scale(0.1)"><text font-size="61.61" textLength="128.7" lengthAdjust="spacingAndGlyphs">Bv56</text></g>
<line x1="496.00" y1="76.90" x2="513.60" y2="76.90" stroke="#5050ff" stroke-width="1.2"/>
<path d="M501.30,76.90L505.40,72.40L509.50,76.90L505.40,81.40Z" fill="#0000ff"/>
<g transform="translate(500.37,72.20) scale(0.1)"><text font-size="61.61" textLength="114.7" lengthAdjust="spacingAndGlyphs">3.70</text></g>
<g transform="translate(516.90,78.50) scale(0.1)"><text font-size="61.61" textLength="114.7" lengthAdjust="spacingAndGlyphs">3.20</text></g>
<g transform="translate(530.14,78.50) scale(0.1)"><text font-size="61.61" textLength="21.8" lengthAdjust="spacingAndGlyphs">-</text></g>
<g transform="translate(534.10,78.50) scale(0.1)"><text font-size="61.61" textLength="114.7" lengthAdjust="spacingAndGlyphs">4.10</text></g>
<g transform="translate(419.63,94.90) scale(0.1)"><text font-size="61.61" textLength="189.2" lengthAdjust="spacingAndGlyphs">EID-CT</text></g>
<g transform="translate(440.33,94.90) scale(0.1)"><text font-size="61.61" textLength="128.7" lengthAdjust="spacingAndGlyphs">Bv40</text></g>
<line x1="472.90" y1="93.10" x2="481.00" y2="93.10" stroke="#5050ff" stroke-width="1.2"/>
<path d="M468.80,93.10L472.90,88.60L477.00,93.10L472.90,97.60Z" fill="#0000ff"/>
<g transform="translate(467.87,89.20) scale(0.1)"><text font-size="61.61" textLength="114.7" lengthAdjust="spacingAndGlyphs">2.00</text></g>
<g transform="translate(516.90,96.10) scale(0.1)"><text font-size="61.61" textLength="114.7" lengthAdjust="spacingAndGlyphs">1.80</text></g>
<g transform="translate(530.14,96.10) scale(0.1)"><text font-size="61.61" textLength="21.8" lengthAdjust="spacingAndGlyphs">-</text></g>
<g transform="translate(534.10,96.10) scale(0.1)"><text font-size="61.61" textLength="114.7" lengthAdjust="spacingAndGlyphs">2.40</text></g>
<line x1="453.20" y1="103.20" x2="512.01" y2="103.20" stroke="#222" stroke-width="1"/>
<line x1="453.70" y1="103.20" x2="453.70" y2="106.20" stroke="#222" stroke-width="0.9"/>
<g transform="translate(452.27,114.60) scale(0.1)"><text font-size="61.61" textLength="28.6" lengthAdjust="spacingAndGlyphs">1</text></g>
<line x1="463.33" y1="103.20" x2="463.33" y2="106.20" stroke="#222" stroke-width="0.9"/>
<g transform="translate(459.66,114.60) scale(0.1)"><text font-size="61.61" textLength="73.5" lengthAdjust="spacingAndGlyphs">1.5</text></g>
<line x1="472.97" y1="103.20" x2="472.97" y2="106.20" stroke="#222" stroke-width="0.9"/>
<g transform="translate(471.54,114.60) scale(0.1)"><text font-size="61.61" textLength="28.6" lengthAdjust="spacingAndGlyphs">2</text></g>
<line x1="482.61" y1="103.20" x2="482.61" y2="106.20" stroke="#222" stroke-width="0.9"/>
<g transform="translate(478.93,114.60) scale(0.1)"><text font-size="61.61" textLength="73.5" lengthAdjust="spacingAndGlyphs">2.5</text></g>
<line x1="492.24" y1="103.20" x2="492.24" y2="106.20" stroke="#222" stroke-width="0.9"/>
<g transform="translate(490.81,114.60) scale(0.1)"><text font-size="61.61" textLength="28.6" lengthAdjust="spacingAndGlyphs">3</text></g>
<line x1="501.88" y1="103.20" x2="501.88" y2="106.20" stroke="#222" stroke-width="0.9"/>
<g transform="translate(498.20,114.60) scale(0.1)"><text font-size="61.61" textLength="73.5" lengthAdjust="spacingAndGlyphs">3.5</text></g>
<line x1="511.51" y1="103.20" x2="511.51" y2="106.20" stroke="#222" stroke-width="0.9"/>
<g transform="translate(510.08,114.60) scale(0.1)"><text font-size="61.61" textLength="28.6" lengthAdjust="spacingAndGlyphs">4</text></g>
<rect x="475.50" y="122.50" width="33.00" height="9.00" fill="#fff" stroke="#4a4a4a" stroke-width="1"/>
<g transform="translate(481.65,128.40) scale(0.1)"><text font-size="54.00" font-weight="bold" stroke="#111" stroke-width="2.20" fill="#111" textLength="208.0" lengthAdjust="spacingAndGlyphs">p-value</text></g>
<g transform="translate(436.61,135.06) scale(0.1)"><text font-size="59.78" textLength="129.9" lengthAdjust="spacingAndGlyphs">Bv40</text></g>
<line x1="449.60" y1="133.01" x2="453.90" y2="133.01" stroke="#333" stroke-width="0.8"/>
<rect x="453.90" y="127.60" width="16.38" height="10.83" fill="#ffffff" stroke="none" stroke-width="1" shape-rendering="crispEdges"/>
<g transform="translate(436.61,145.90) scale(0.1)"><text font-size="59.78" textLength="129.9" lengthAdjust="spacingAndGlyphs">Bv48</text></g>
<line x1="449.60" y1="143.84" x2="453.90" y2="143.84" stroke="#333" stroke-width="0.8"/>
<rect x="453.90" y="138.43" width="16.38" height="10.83" fill="#ffffff" stroke="none" stroke-width="1" shape-rendering="crispEdges"/>
<rect x="470.28" y="138.43" width="16.38" height="10.83" fill="#ffffff" stroke="none" stroke-width="1" shape-rendering="crispEdges"/>
<g transform="translate(436.61,156.72) scale(0.1)"><text font-size="59.78" textLength="129.9" lengthAdjust="spacingAndGlyphs">Bv56</text></g>
<line x1="449.60" y1="154.67" x2="453.90" y2="154.67" stroke="#333" stroke-width="0.8"/>
<rect x="453.90" y="149.26" width="16.38" height="10.83" fill="#2b2b2b" stroke="none" stroke-width="1" shape-rendering="crispEdges"/>
<rect x="470.28" y="149.26" width="16.38" height="10.83" fill="#a3a3a3" stroke="none" stroke-width="1" shape-rendering="crispEdges"/>
<rect x="486.66" y="149.26" width="16.38" height="10.83" fill="#ffffff" stroke="none" stroke-width="1" shape-rendering="crispEdges"/>
<g transform="translate(426.31,167.56) scale(0.1)"><text font-size="59.78" textLength="95.1" lengthAdjust="spacingAndGlyphs">EID</text></g>
<g transform="translate(437.48,167.56) scale(0.1)"><text font-size="59.78" textLength="121.2" lengthAdjust="spacingAndGlyphs">Bv40</text></g>
<line x1="449.60" y1="165.50" x2="453.90" y2="165.50" stroke="#333" stroke-width="0.8"/>
<rect x="453.90" y="160.09" width="16.38" height="10.83" fill="#474747" stroke="none" stroke-width="1" shape-rendering="crispEdges"/>
<rect x="470.28" y="160.09" width="16.38" height="10.83" fill="#2b2b2b" stroke="none" stroke-width="1" shape-rendering="crispEdges"/>
<rect x="486.66" y="160.09" width="16.38" height="10.83" fill="#060606" stroke="none" stroke-width="1" shape-rendering="crispEdges"/>
<rect x="503.04" y="160.09" width="16.38" height="10.83" fill="#ffffff" stroke="none" stroke-width="1" shape-rendering="crispEdges"/>
<rect x="453.50" y="127.50" width="17.00" height="11.00" fill="none" stroke="#3c3c3c" stroke-width="1"/>
<line x1="453.50" y1="128.00" x2="453.50" y2="138.00" stroke="#909090" stroke-width="1"/>
<rect x="453.50" y="138.50" width="17.00" height="11.00" fill="none" stroke="#3c3c3c" stroke-width="1"/>
<line x1="453.50" y1="139.00" x2="453.50" y2="149.00" stroke="#909090" stroke-width="1"/>
<rect x="470.50" y="138.50" width="16.00" height="11.00" fill="none" stroke="#3c3c3c" stroke-width="1"/>
<rect x="486.50" y="149.50" width="17.00" height="11.00" fill="none" stroke="#3c3c3c" stroke-width="1"/>
<rect x="503.50" y="160.50" width="16.00" height="10.00" fill="none" stroke="#3c3c3c" stroke-width="1"/>
<g transform="translate(460.53,135.06) scale(0.1)"><text font-size="59.78" textLength="31.1" lengthAdjust="spacingAndGlyphs">1</text></g>
<g transform="translate(460.53,145.90) scale(0.1)"><text font-size="59.78" textLength="31.1" lengthAdjust="spacingAndGlyphs">1</text></g>
<g transform="translate(476.91,145.90) scale(0.1)"><text font-size="59.78" textLength="31.1" lengthAdjust="spacingAndGlyphs">1</text></g>
<g transform="translate(454.97,156.72) scale(0.1)"><text font-size="59.78" fill="#eeeeee" textLength="142.4" lengthAdjust="spacingAndGlyphs">0.064</text></g>
<g transform="translate(471.35,156.72) scale(0.1)"><text font-size="59.78" textLength="142.4" lengthAdjust="spacingAndGlyphs">0.118</text></g>
<g transform="translate(493.29,156.72) scale(0.1)"><text font-size="59.78" textLength="31.1" lengthAdjust="spacingAndGlyphs">1</text></g>
<g transform="translate(456.53,167.56) scale(0.1)"><text font-size="59.78" fill="#f2f2f2" textLength="111.3" lengthAdjust="spacingAndGlyphs">0.43</text></g>
<g transform="translate(472.91,167.56) scale(0.1)"><text font-size="59.78" fill="#eeeeee" textLength="111.3" lengthAdjust="spacingAndGlyphs">0.04</text></g>
<g transform="translate(487.73,167.56) scale(0.1)"><text font-size="59.78" fill="#ffffff" textLength="142.4" lengthAdjust="spacingAndGlyphs">0.001</text></g>
<g transform="translate(509.67,167.56) scale(0.1)"><text font-size="59.78" textLength="31.1" lengthAdjust="spacingAndGlyphs">1</text></g>
<line x1="462.09" y1="170.92" x2="462.09" y2="173.92" stroke="#333" stroke-width="0.8"/>
<g transform="translate(456.69,175.62) rotate(30) scale(0.1)"><text font-size="59.78" fill="#111" textLength="124.9" lengthAdjust="spacingAndGlyphs">Bv40</text></g>
<line x1="478.47" y1="170.92" x2="478.47" y2="173.92" stroke="#333" stroke-width="0.8"/>
<g transform="translate(473.07,175.62) rotate(30) scale(0.1)"><text font-size="59.78" fill="#111" textLength="124.9" lengthAdjust="spacingAndGlyphs">Bv48</text></g>
<line x1="494.85" y1="170.92" x2="494.85" y2="173.92" stroke="#333" stroke-width="0.8"/>
<g transform="translate(489.45,175.62) rotate(30) scale(0.1)"><text font-size="59.78" fill="#111" textLength="124.9" lengthAdjust="spacingAndGlyphs">Bv56</text></g>
<line x1="511.23" y1="170.92" x2="511.23" y2="173.92" stroke="#333" stroke-width="0.8"/>
<g transform="translate(505.83,175.62) rotate(30) scale(0.1)"><text font-size="59.78" fill="#111" textLength="240.1" lengthAdjust="spacingAndGlyphs">EID Bv40</text></g>
<line x1="586.50" y1="25.00" x2="586.50" y2="106.80" stroke="#e4e4e4" stroke-width="1"/>
<rect x="598.50" y="6.50" width="42.00" height="16.00" fill="#fff" stroke="#4a4a4a" stroke-width="1"/>
<g transform="translate(600.60,13.20) scale(0.1)"><text font-size="63.50" font-weight="bold" stroke="#111" stroke-width="2.20" font-style="italic" fill="#111" textLength="374.0" lengthAdjust="spacingAndGlyphs">Diagnostic</text></g>
<g transform="translate(599.90,20.80) scale(0.1)"><text font-size="63.50" font-weight="bold" stroke="#111" stroke-width="2.20" font-style="italic" fill="#111" textLength="392.0" lengthAdjust="spacingAndGlyphs">Confidence</text></g>
<g transform="translate(560.70,20.90) scale(0.1)"><text font-size="53.00" font-weight="bold" stroke="#111" stroke-width="2.20" fill="#111" textLength="184.0" lengthAdjust="spacingAndGlyphs">Kernel</text></g>
<g transform="translate(661.10,20.90) scale(0.1)"><text font-size="53.00" font-weight="bold" stroke="#111" stroke-width="2.20" fill="#111" textLength="104.0" lengthAdjust="spacingAndGlyphs">IQR</text></g>
<g transform="translate(551.97,39.40) scale(0.1)"><text font-size="61.61" textLength="192.8" lengthAdjust="spacingAndGlyphs">PCD-CT</text></g>
<g transform="translate(573.03,39.40) scale(0.1)"><text font-size="61.61" textLength="128.7" lengthAdjust="spacingAndGlyphs">Bv40</text></g>
<line x1="611.10" y1="38.20" x2="629.90" y2="38.20" stroke="#ff4a4a" stroke-width="1.2"/>
<path d="M617.60,38.20L621.70,33.70L625.80,38.20L621.70,42.70Z" fill="#ff0000"/>
<g transform="translate(616.67,34.10) scale(0.1)"><text font-size="61.61" textLength="114.7" lengthAdjust="spacingAndGlyphs">3.00</text></g>
<g transform="translate(651.20,38.40) scale(0.1)"><text font-size="61.61" textLength="114.7" lengthAdjust="spacingAndGlyphs">2.40</text></g>
<g transform="translate(664.44,38.40) scale(0.1)"><text font-size="61.61" textLength="21.8" lengthAdjust="spacingAndGlyphs">-</text></g>
<g transform="translate(668.40,38.40) scale(0.1)"><text font-size="61.61" textLength="114.7" lengthAdjust="spacingAndGlyphs">3.45</text></g>
<g transform="translate(551.97,59.30) scale(0.1)"><text font-size="61.61" textLength="192.8" lengthAdjust="spacingAndGlyphs">PCD-CT</text></g>
<g transform="translate(573.03,59.30) scale(0.1)"><text font-size="61.61" textLength="128.7" lengthAdjust="spacingAndGlyphs">Bv48</text></g>
<path d="M621.20,58.30L625.30,53.80L629.40,58.30L625.30,62.80Z" fill="#ff0000"/>
<g transform="translate(620.27,53.70) scale(0.1)"><text font-size="61.61" textLength="114.7" lengthAdjust="spacingAndGlyphs">3.20</text></g>
<g transform="translate(650.80,59.30) scale(0.1)"><text font-size="61.61" textLength="114.7" lengthAdjust="spacingAndGlyphs">2.95</text></g>
<g transform="translate(664.04,59.30) scale(0.1)"><text font-size="61.61" textLength="21.8" lengthAdjust="spacingAndGlyphs">-</text></g>
<g transform="translate(668.00,59.30) scale(0.1)"><text font-size="61.61" textLength="114.7" lengthAdjust="spacingAndGlyphs">3.45</text></g>
<g transform="translate(551.97,79.60) scale(0.1)"><text font-size="61.61" textLength="192.8" lengthAdjust="spacingAndGlyphs">PCD-CT</text></g>
<g transform="translate(573.03,79.60) scale(0.1)"><text font-size="61.61" textLength="128.7" lengthAdjust="spacingAndGlyphs">Bv56</text></g>
<line x1="628.00" y1="78.20" x2="647.60" y2="78.20" stroke="#ff4a4a" stroke-width="1.2"/>
<path d="M635.30,78.20L639.40,73.70L643.50,78.20L639.40,82.70Z" fill="#ff0000"/>
<g transform="translate(634.37,74.20) scale(0.1)"><text font-size="61.61" textLength="114.7" lengthAdjust="spacingAndGlyphs">4.00</text></g>
<g transform="translate(651.20,80.10) scale(0.1)"><text font-size="61.61" textLength="114.7" lengthAdjust="spacingAndGlyphs">3.35</text></g>
<g transform="translate(664.44,80.10) scale(0.1)"><text font-size="61.61" textLength="21.8" lengthAdjust="spacingAndGlyphs">-</text></g>
<g transform="translate(668.40,80.10) scale(0.1)"><text font-size="61.61" textLength="114.7" lengthAdjust="spacingAndGlyphs">4.45</text></g>
<g transform="translate(552.33,100.10) scale(0.1)"><text font-size="61.61" textLength="189.2" lengthAdjust="spacingAndGlyphs">EID-CT</text></g>
<g transform="translate(573.03,100.10) scale(0.1)"><text font-size="61.61" textLength="128.7" lengthAdjust="spacingAndGlyphs">Bv40</text></g>
<line x1="605.90" y1="97.60" x2="612.40" y2="97.60" stroke="#ff4a4a" stroke-width="1.2"/>
<path d="M601.80,97.60L605.90,93.10L610.00,97.60L605.90,102.10Z" fill="#ff0000"/>
<g transform="translate(600.87,93.20) scale(0.1)"><text font-size="61.61" textLength="114.7" lengthAdjust="spacingAndGlyphs">2.10</text></g>
<g transform="translate(651.20,99.70) scale(0.1)"><text font-size="61.61" textLength="114.7" lengthAdjust="spacingAndGlyphs">1.95</text></g>
<g transform="translate(664.44,99.70) scale(0.1)"><text font-size="61.61" textLength="21.8" lengthAdjust="spacingAndGlyphs">-</text></g>
<g transform="translate(668.40,99.70) scale(0.1)"><text font-size="61.61" textLength="114.7" lengthAdjust="spacingAndGlyphs">2.45</text></g>
<line x1="585.90" y1="107.30" x2="648.85" y2="107.30" stroke="#222" stroke-width="1"/>
<line x1="586.40" y1="107.30" x2="586.40" y2="110.30" stroke="#222" stroke-width="0.9"/>
<g transform="translate(584.97,119.20) scale(0.1)"><text font-size="61.61" textLength="28.6" lengthAdjust="spacingAndGlyphs">1</text></g>
<line x1="595.25" y1="107.30" x2="595.25" y2="110.30" stroke="#222" stroke-width="0.9"/>
<g transform="translate(591.58,119.20) scale(0.1)"><text font-size="61.61" textLength="73.5" lengthAdjust="spacingAndGlyphs">1.5</text></g>
<line x1="604.10" y1="107.30" x2="604.10" y2="110.30" stroke="#222" stroke-width="0.9"/>
<g transform="translate(602.67,119.20) scale(0.1)"><text font-size="61.61" textLength="28.6" lengthAdjust="spacingAndGlyphs">2</text></g>
<line x1="612.95" y1="107.30" x2="612.95" y2="110.30" stroke="#222" stroke-width="0.9"/>
<g transform="translate(609.28,119.20) scale(0.1)"><text font-size="61.61" textLength="73.5" lengthAdjust="spacingAndGlyphs">2.5</text></g>
<line x1="621.80" y1="107.30" x2="621.80" y2="110.30" stroke="#222" stroke-width="0.9"/>
<g transform="translate(620.37,119.20) scale(0.1)"><text font-size="61.61" textLength="28.6" lengthAdjust="spacingAndGlyphs">3</text></g>
<line x1="630.65" y1="107.30" x2="630.65" y2="110.30" stroke="#222" stroke-width="0.9"/>
<g transform="translate(626.98,119.20) scale(0.1)"><text font-size="61.61" textLength="73.5" lengthAdjust="spacingAndGlyphs">3.5</text></g>
<line x1="639.50" y1="107.30" x2="639.50" y2="110.30" stroke="#222" stroke-width="0.9"/>
<g transform="translate(638.07,119.20) scale(0.1)"><text font-size="61.61" textLength="28.6" lengthAdjust="spacingAndGlyphs">4</text></g>
<line x1="648.35" y1="107.30" x2="648.35" y2="110.30" stroke="#222" stroke-width="0.9"/>
<g transform="translate(644.68,119.20) scale(0.1)"><text font-size="61.61" textLength="73.5" lengthAdjust="spacingAndGlyphs">4.5</text></g>
<rect x="608.50" y="124.50" width="32.00" height="8.00" fill="#fff" stroke="#4a4a4a" stroke-width="1"/>
<g transform="translate(614.15,129.80) scale(0.1)"><text font-size="54.00" font-weight="bold" stroke="#111" stroke-width="2.20" fill="#111" textLength="208.0" lengthAdjust="spacingAndGlyphs">p-value</text></g>
<g transform="translate(568.71,136.77) scale(0.1)"><text font-size="59.78" textLength="129.9" lengthAdjust="spacingAndGlyphs">Bv40</text></g>
<line x1="581.70" y1="134.72" x2="586.00" y2="134.72" stroke="#333" stroke-width="0.8"/>
<rect x="586.00" y="129.30" width="16.35" height="10.83" fill="#ffffff" stroke="none" stroke-width="1" shape-rendering="crispEdges"/>
<g transform="translate(568.71,147.60) scale(0.1)"><text font-size="59.78" textLength="129.9" lengthAdjust="spacingAndGlyphs">Bv48</text></g>
<line x1="581.70" y1="145.55" x2="586.00" y2="145.55" stroke="#333" stroke-width="0.8"/>
<rect x="586.00" y="140.13" width="16.35" height="10.83" fill="#ffffff" stroke="none" stroke-width="1" shape-rendering="crispEdges"/>
<rect x="602.35" y="140.13" width="16.35" height="10.83" fill="#ffffff" stroke="none" stroke-width="1" shape-rendering="crispEdges"/>
<g transform="translate(568.71,158.43) scale(0.1)"><text font-size="59.78" textLength="129.9" lengthAdjust="spacingAndGlyphs">Bv56</text></g>
<line x1="581.70" y1="156.38" x2="586.00" y2="156.38" stroke="#333" stroke-width="0.8"/>
<rect x="586.00" y="150.96" width="16.35" height="10.83" fill="#2b2b2b" stroke="none" stroke-width="1" shape-rendering="crispEdges"/>
<rect x="602.35" y="150.96" width="16.35" height="10.83" fill="#a3a3a3" stroke="none" stroke-width="1" shape-rendering="crispEdges"/>
<rect x="618.70" y="150.96" width="16.35" height="10.83" fill="#ffffff" stroke="none" stroke-width="1" shape-rendering="crispEdges"/>
<g transform="translate(558.41,169.26) scale(0.1)"><text font-size="59.78" textLength="95.1" lengthAdjust="spacingAndGlyphs">EID</text></g>
<g transform="translate(569.58,169.26) scale(0.1)"><text font-size="59.78" textLength="121.2" lengthAdjust="spacingAndGlyphs">Bv40</text></g>
<line x1="581.70" y1="167.21" x2="586.00" y2="167.21" stroke="#333" stroke-width="0.8"/>
<rect x="586.00" y="161.79" width="16.35" height="10.83" fill="#474747" stroke="none" stroke-width="1" shape-rendering="crispEdges"/>
<rect x="602.35" y="161.79" width="16.35" height="10.83" fill="#a3a3a3" stroke="none" stroke-width="1" shape-rendering="crispEdges"/>
<rect x="618.70" y="161.79" width="16.35" height="10.83" fill="#060606" stroke="none" stroke-width="1" shape-rendering="crispEdges"/>
<rect x="635.05" y="161.79" width="16.35" height="10.83" fill="#ffffff" stroke="none" stroke-width="1" shape-rendering="crispEdges"/>
<rect x="586.50" y="129.50" width="16.00" height="11.00" fill="none" stroke="#3c3c3c" stroke-width="1"/>
<line x1="586.50" y1="130.00" x2="586.50" y2="140.00" stroke="#909090" stroke-width="1"/>
<rect x="586.50" y="140.50" width="16.00" height="10.00" fill="none" stroke="#3c3c3c" stroke-width="1"/>
<line x1="586.50" y1="141.00" x2="586.50" y2="150.00" stroke="#909090" stroke-width="1"/>
<rect x="602.50" y="140.50" width="16.00" height="10.00" fill="none" stroke="#3c3c3c" stroke-width="1"/>
<rect x="618.50" y="150.50" width="17.00" height="11.00" fill="none" stroke="#3c3c3c" stroke-width="1"/>
<rect x="635.50" y="161.50" width="16.00" height="11.00" fill="none" stroke="#3c3c3c" stroke-width="1"/>
<g transform="translate(592.62,136.77) scale(0.1)"><text font-size="59.78" textLength="31.1" lengthAdjust="spacingAndGlyphs">1</text></g>
<g transform="translate(592.62,147.60) scale(0.1)"><text font-size="59.78" textLength="31.1" lengthAdjust="spacingAndGlyphs">1</text></g>
<g transform="translate(608.97,147.60) scale(0.1)"><text font-size="59.78" textLength="31.1" lengthAdjust="spacingAndGlyphs">1</text></g>
<g transform="translate(587.05,158.43) scale(0.1)"><text font-size="59.78" fill="#eeeeee" textLength="142.4" lengthAdjust="spacingAndGlyphs">0.058</text></g>
<g transform="translate(603.40,158.43) scale(0.1)"><text font-size="59.78" textLength="142.4" lengthAdjust="spacingAndGlyphs">0.255</text></g>
<g transform="translate(625.32,158.43) scale(0.1)"><text font-size="59.78" textLength="31.1" lengthAdjust="spacingAndGlyphs">1</text></g>
<g transform="translate(588.61,169.26) scale(0.1)"><text font-size="59.78" fill="#f2f2f2" textLength="111.3" lengthAdjust="spacingAndGlyphs">0.46</text></g>
<g transform="translate(604.96,169.26) scale(0.1)"><text font-size="59.78" textLength="111.3" lengthAdjust="spacingAndGlyphs">0.13</text></g>
<g transform="translate(619.75,169.26) scale(0.1)"><text font-size="59.78" fill="#ffffff" textLength="142.4" lengthAdjust="spacingAndGlyphs">0.008</text></g>
<g transform="translate(641.67,169.26) scale(0.1)"><text font-size="59.78" textLength="31.1" lengthAdjust="spacingAndGlyphs">1</text></g>
<line x1="594.17" y1="172.62" x2="594.17" y2="175.62" stroke="#333" stroke-width="0.8"/>
<g transform="translate(588.77,177.32) rotate(30) scale(0.1)"><text font-size="59.78" fill="#111" textLength="124.9" lengthAdjust="spacingAndGlyphs">Bv40</text></g>
<line x1="610.52" y1="172.62" x2="610.52" y2="175.62" stroke="#333" stroke-width="0.8"/>
<g transform="translate(605.12,177.32) rotate(30) scale(0.1)"><text font-size="59.78" fill="#111" textLength="124.9" lengthAdjust="spacingAndGlyphs">Bv48</text></g>
<line x1="626.88" y1="172.62" x2="626.88" y2="175.62" stroke="#333" stroke-width="0.8"/>
<g transform="translate(621.48,177.32) rotate(30) scale(0.1)"><text font-size="59.78" fill="#111" textLength="124.9" lengthAdjust="spacingAndGlyphs">Bv56</text></g>
<line x1="643.23" y1="172.62" x2="643.23" y2="175.62" stroke="#333" stroke-width="0.8"/>
<g transform="translate(637.83,177.32) rotate(30) scale(0.1)"><text font-size="59.78" fill="#111" textLength="240.1" lengthAdjust="spacingAndGlyphs">EID Bv40</text></g>
<line x1="56.50" y1="214.00" x2="56.50" y2="293.10" stroke="#e4e4e4" stroke-width="1"/>
<rect x="68.50" y="197.50" width="40.00" height="9.00" fill="#fff" stroke="#4a4a4a" stroke-width="1"/>
<g transform="translate(70.50,204.10) scale(0.1)"><text font-size="63.50" font-weight="bold" stroke="#111" stroke-width="2.20" font-style="italic" fill="#111" textLength="368.0" lengthAdjust="spacingAndGlyphs">Overall IQ</text></g>
<g transform="translate(30.70,209.00) scale(0.1)"><text font-size="53.00" font-weight="bold" stroke="#111" stroke-width="2.20" fill="#111" textLength="184.0" lengthAdjust="spacingAndGlyphs">Kernel</text></g>
<g transform="translate(130.90,209.60) scale(0.1)"><text font-size="53.00" font-weight="bold" stroke="#111" stroke-width="2.20" fill="#111" textLength="104.0" lengthAdjust="spacingAndGlyphs">IQR</text></g>
<g transform="translate(21.97,225.40) scale(0.1)"><text font-size="61.61" textLength="192.8" lengthAdjust="spacingAndGlyphs">PCD-CT</text></g>
<g transform="translate(43.03,225.40) scale(0.1)"><text font-size="61.61" textLength="128.7" lengthAdjust="spacingAndGlyphs">Bv40</text></g>
<line x1="67.10" y1="224.20" x2="85.70" y2="224.20" stroke="#60f2f2" stroke-width="1.2"/>
<path d="M68.50,224.20L72.60,219.70L76.70,224.20L72.60,228.70Z" fill="#00eeee"/>
<g transform="translate(67.57,219.70) scale(0.1)"><text font-size="61.61" textLength="114.7" lengthAdjust="spacingAndGlyphs">1.80</text></g>
<g transform="translate(121.60,226.30) scale(0.1)"><text font-size="61.61" textLength="114.7" lengthAdjust="spacingAndGlyphs">1.60</text></g>
<g transform="translate(134.84,226.30) scale(0.1)"><text font-size="61.61" textLength="21.8" lengthAdjust="spacingAndGlyphs">-</text></g>
<g transform="translate(138.80,226.30) scale(0.1)"><text font-size="61.61" textLength="114.7" lengthAdjust="spacingAndGlyphs">2.60</text></g>
<g transform="translate(21.97,245.80) scale(0.1)"><text font-size="61.61" textLength="192.8" lengthAdjust="spacingAndGlyphs">PCD-CT</text></g>
<g transform="translate(43.03,245.80) scale(0.1)"><text font-size="61.61" textLength="128.7" lengthAdjust="spacingAndGlyphs">Bv48</text></g>
<line x1="82.00" y1="244.30" x2="87.30" y2="244.30" stroke="#60f2f2" stroke-width="1.2"/>
<path d="M77.90,244.30L82.00,239.80L86.10,244.30L82.00,248.80Z" fill="#00eeee"/>
<g transform="translate(76.97,240.10) scale(0.1)"><text font-size="61.61" textLength="114.7" lengthAdjust="spacingAndGlyphs">2.40</text></g>
<g transform="translate(121.60,246.40) scale(0.1)"><text font-size="61.61" textLength="114.7" lengthAdjust="spacingAndGlyphs">2.40</text></g>
<g transform="translate(134.84,246.40) scale(0.1)"><text font-size="61.61" textLength="21.8" lengthAdjust="spacingAndGlyphs">-</text></g>
<g transform="translate(138.80,246.40) scale(0.1)"><text font-size="61.61" textLength="114.7" lengthAdjust="spacingAndGlyphs">2.60</text></g>
<g transform="translate(21.97,266.00) scale(0.1)"><text font-size="61.61" textLength="192.8" lengthAdjust="spacingAndGlyphs">PCD-CT</text></g>
<g transform="translate(43.03,266.00) scale(0.1)"><text font-size="61.61" textLength="128.7" lengthAdjust="spacingAndGlyphs">Bv56</text></g>
<line x1="94.50" y1="264.50" x2="102.00" y2="264.50" stroke="#60f2f2" stroke-width="1.2"/>
<path d="M90.40,264.50L94.50,260.00L98.60,264.50L94.50,269.00Z" fill="#00eeee"/>
<g transform="translate(89.47,260.20) scale(0.1)"><text font-size="61.61" textLength="114.7" lengthAdjust="spacingAndGlyphs">3.00</text></g>
<g transform="translate(121.20,266.60) scale(0.1)"><text font-size="61.61" textLength="114.7" lengthAdjust="spacingAndGlyphs">2.80</text></g>
<g transform="translate(134.44,266.60) scale(0.1)"><text font-size="61.61" textLength="21.8" lengthAdjust="spacingAndGlyphs">-</text></g>
<g transform="translate(138.40,266.60) scale(0.1)"><text font-size="61.61" textLength="114.7" lengthAdjust="spacingAndGlyphs">3.40</text></g>
<g transform="translate(22.33,284.90) scale(0.1)"><text font-size="61.61" textLength="189.2" lengthAdjust="spacingAndGlyphs">EID-CT</text></g>
<g transform="translate(43.03,284.90) scale(0.1)"><text font-size="61.61" textLength="128.7" lengthAdjust="spacingAndGlyphs">Bv40</text></g>
<path d="M64.00,282.90L68.10,278.40L72.20,282.90L68.10,287.40Z" fill="#00eeee"/>
<g transform="translate(64.67,278.80) scale(0.1)"><text font-size="61.61" textLength="82.6" lengthAdjust="spacingAndGlyphs">1.6</text></g>
<g transform="translate(121.60,285.00) scale(0.1)"><text font-size="61.61" textLength="114.7" lengthAdjust="spacingAndGlyphs">1.40</text></g>
<g transform="translate(134.84,285.00) scale(0.1)"><text font-size="61.61" textLength="21.8" lengthAdjust="spacingAndGlyphs">-</text></g>
<g transform="translate(138.80,285.00) scale(0.1)"><text font-size="61.61" textLength="114.7" lengthAdjust="spacingAndGlyphs">1.80</text></g>
<line x1="55.90" y1="293.60" x2="114.05" y2="293.60" stroke="#222" stroke-width="1"/>
<line x1="56.40" y1="293.60" x2="56.40" y2="296.60" stroke="#222" stroke-width="0.9"/>
<g transform="translate(54.97,304.60) scale(0.1)"><text font-size="61.61" textLength="28.6" lengthAdjust="spacingAndGlyphs">1</text></g>
<line x1="65.92" y1="293.60" x2="65.92" y2="296.60" stroke="#222" stroke-width="0.9"/>
<g transform="translate(62.25,304.60) scale(0.1)"><text font-size="61.61" textLength="73.5" lengthAdjust="spacingAndGlyphs">1.5</text></g>
<line x1="75.45" y1="293.60" x2="75.45" y2="296.60" stroke="#222" stroke-width="0.9"/>
<g transform="translate(74.02,304.60) scale(0.1)"><text font-size="61.61" textLength="28.6" lengthAdjust="spacingAndGlyphs">2</text></g>
<line x1="84.97" y1="293.60" x2="84.97" y2="296.60" stroke="#222" stroke-width="0.9"/>
<g transform="translate(81.30,304.60) scale(0.1)"><text font-size="61.61" textLength="73.5" lengthAdjust="spacingAndGlyphs">2.5</text></g>
<line x1="94.50" y1="293.60" x2="94.50" y2="296.60" stroke="#222" stroke-width="0.9"/>
<g transform="translate(93.07,304.60) scale(0.1)"><text font-size="61.61" textLength="28.6" lengthAdjust="spacingAndGlyphs">3</text></g>
<line x1="104.03" y1="293.60" x2="104.03" y2="296.60" stroke="#222" stroke-width="0.9"/>
<g transform="translate(100.35,304.60) scale(0.1)"><text font-size="61.61" textLength="73.5" lengthAdjust="spacingAndGlyphs">3.5</text></g>
<line x1="113.55" y1="293.60" x2="113.55" y2="296.60" stroke="#222" stroke-width="0.9"/>
<g transform="translate(112.12,304.60) scale(0.1)"><text font-size="61.61" textLength="28.6" lengthAdjust="spacingAndGlyphs">4</text></g>
<rect x="76.50" y="313.50" width="32.00" height="8.00" fill="#fff" stroke="#4a4a4a" stroke-width="1"/>
<g transform="translate(82.05,319.00) scale(0.1)"><text font-size="54.00" font-weight="bold" stroke="#111" stroke-width="2.20" fill="#111" textLength="208.0" lengthAdjust="spacingAndGlyphs">p-value</text></g>
<g transform="translate(36.61,325.71) scale(0.1)"><text font-size="59.78" textLength="129.9" lengthAdjust="spacingAndGlyphs">Bv40</text></g>
<line x1="49.60" y1="323.66" x2="53.90" y2="323.66" stroke="#333" stroke-width="0.8"/>
<rect x="53.90" y="318.20" width="16.35" height="10.92" fill="#ffffff" stroke="none" stroke-width="1" shape-rendering="crispEdges"/>
<g transform="translate(36.61,336.63) scale(0.1)"><text font-size="59.78" textLength="129.9" lengthAdjust="spacingAndGlyphs">Bv48</text></g>
<line x1="49.60" y1="334.58" x2="53.90" y2="334.58" stroke="#333" stroke-width="0.8"/>
<rect x="53.90" y="329.12" width="16.35" height="10.92" fill="#ffffff" stroke="none" stroke-width="1" shape-rendering="crispEdges"/>
<rect x="70.25" y="329.12" width="16.35" height="10.92" fill="#ffffff" stroke="none" stroke-width="1" shape-rendering="crispEdges"/>
<g transform="translate(36.61,347.55) scale(0.1)"><text font-size="59.78" textLength="129.9" lengthAdjust="spacingAndGlyphs">Bv56</text></g>
<line x1="49.60" y1="345.50" x2="53.90" y2="345.50" stroke="#333" stroke-width="0.8"/>
<rect x="53.90" y="340.04" width="16.35" height="10.92" fill="#474747" stroke="none" stroke-width="1" shape-rendering="crispEdges"/>
<rect x="70.25" y="340.04" width="16.35" height="10.92" fill="#474747" stroke="none" stroke-width="1" shape-rendering="crispEdges"/>
<rect x="86.60" y="340.04" width="16.35" height="10.92" fill="#ffffff" stroke="none" stroke-width="1" shape-rendering="crispEdges"/>
<g transform="translate(26.31,358.47) scale(0.1)"><text font-size="59.78" textLength="95.1" lengthAdjust="spacingAndGlyphs">EID</text></g>
<g transform="translate(37.48,358.47) scale(0.1)"><text font-size="59.78" textLength="121.2" lengthAdjust="spacingAndGlyphs">Bv40</text></g>
<line x1="49.60" y1="356.42" x2="53.90" y2="356.42" stroke="#333" stroke-width="0.8"/>
<rect x="53.90" y="350.96" width="16.35" height="10.92" fill="#ffffff" stroke="none" stroke-width="1" shape-rendering="crispEdges"/>
<rect x="70.25" y="350.96" width="16.35" height="10.92" fill="#474747" stroke="none" stroke-width="1" shape-rendering="crispEdges"/>
<rect x="86.60" y="350.96" width="16.35" height="10.92" fill="#2b2b2b" stroke="none" stroke-width="1" shape-rendering="crispEdges"/>
<rect x="102.95" y="350.96" width="16.35" height="10.92" fill="#ffffff" stroke="none" stroke-width="1" shape-rendering="crispEdges"/>
<rect x="53.50" y="318.50" width="17.00" height="11.00" fill="none" stroke="#3c3c3c" stroke-width="1"/>
<line x1="53.50" y1="319.00" x2="53.50" y2="329.00" stroke="#909090" stroke-width="1"/>
<rect x="53.50" y="329.50" width="17.00" height="11.00" fill="none" stroke="#3c3c3c" stroke-width="1"/>
<line x1="53.50" y1="330.00" x2="53.50" y2="340.00" stroke="#909090" stroke-width="1"/>
<rect x="70.50" y="329.50" width="16.00" height="11.00" fill="none" stroke="#3c3c3c" stroke-width="1"/>
<rect x="86.50" y="340.50" width="16.00" height="10.00" fill="none" stroke="#3c3c3c" stroke-width="1"/>
<rect x="53.50" y="350.50" width="17.00" height="11.00" fill="none" stroke="#3c3c3c" stroke-width="1"/>
<line x1="53.50" y1="351.00" x2="53.50" y2="361.00" stroke="#909090" stroke-width="1"/>
<rect x="102.50" y="350.50" width="17.00" height="11.00" fill="none" stroke="#3c3c3c" stroke-width="1"/>
<g transform="translate(60.52,325.71) scale(0.1)"><text font-size="59.78" textLength="31.1" lengthAdjust="spacingAndGlyphs">1</text></g>
<g transform="translate(60.52,336.63) scale(0.1)"><text font-size="59.78" textLength="31.1" lengthAdjust="spacingAndGlyphs">1</text></g>
<g transform="translate(76.87,336.63) scale(0.1)"><text font-size="59.78" textLength="31.1" lengthAdjust="spacingAndGlyphs">1</text></g>
<g transform="translate(56.51,347.55) scale(0.1)"><text font-size="59.78" fill="#f2f2f2" textLength="111.3" lengthAdjust="spacingAndGlyphs">0.55</text></g>
<g transform="translate(72.86,347.55) scale(0.1)"><text font-size="59.78" fill="#f2f2f2" textLength="111.3" lengthAdjust="spacingAndGlyphs">0.43</text></g>
<g transform="translate(93.22,347.55) scale(0.1)"><text font-size="59.78" textLength="31.1" lengthAdjust="spacingAndGlyphs">1</text></g>
<g transform="translate(60.52,358.47) scale(0.1)"><text font-size="59.78" textLength="31.1" lengthAdjust="spacingAndGlyphs">1</text></g>
<g transform="translate(72.86,358.47) scale(0.1)"><text font-size="59.78" fill="#f2f2f2" textLength="111.3" lengthAdjust="spacingAndGlyphs">0.69</text></g>
<g transform="translate(89.21,358.47) scale(0.1)"><text font-size="59.78" fill="#eeeeee" textLength="111.3" lengthAdjust="spacingAndGlyphs">0.17</text></g>
<g transform="translate(109.57,358.47) scale(0.1)"><text font-size="59.78" textLength="31.1" lengthAdjust="spacingAndGlyphs">1</text></g>
<line x1="62.08" y1="361.88" x2="62.08" y2="364.88" stroke="#333" stroke-width="0.8"/>
<g transform="translate(56.68,366.58) rotate(30) scale(0.1)"><text font-size="59.78" fill="#111" textLength="124.9" lengthAdjust="spacingAndGlyphs">Bv40</text></g>
<line x1="78.42" y1="361.88" x2="78.42" y2="364.88" stroke="#333" stroke-width="0.8"/>
<g transform="translate(73.02,366.58) rotate(30) scale(0.1)"><text font-size="59.78" fill="#111" textLength="124.9" lengthAdjust="spacingAndGlyphs">Bv48</text></g>
<line x1="94.78" y1="361.88" x2="94.78" y2="364.88" stroke="#333" stroke-width="0.8"/>
<g transform="translate(89.38,366.58) rotate(30) scale(0.1)"><text font-size="59.78" fill="#111" textLength="124.9" lengthAdjust="spacingAndGlyphs">Bv56</text></g>
<line x1="111.12" y1="361.88" x2="111.12" y2="364.88" stroke="#333" stroke-width="0.8"/>
<g transform="translate(105.72,366.58) rotate(30) scale(0.1)"><text font-size="59.78" fill="#111" textLength="240.1" lengthAdjust="spacingAndGlyphs">EID Bv40</text></g>
<line x1="189.50" y1="214.60" x2="189.50" y2="291.70" stroke="#e4e4e4" stroke-width="1"/>
<rect x="201.50" y="196.50" width="40.00" height="10.00" fill="#fff" stroke="#4a4a4a" stroke-width="1"/>
<g transform="translate(202.80,203.90) scale(0.1)"><text font-size="63.50" font-weight="bold" stroke="#111" stroke-width="2.20" font-style="italic" fill="#111" textLength="372.0" lengthAdjust="spacingAndGlyphs">Sharpness</text></g>
<g transform="translate(162.60,211.30) scale(0.1)"><text font-size="53.00" font-weight="bold" stroke="#111" stroke-width="2.20" fill="#111" textLength="184.0" lengthAdjust="spacingAndGlyphs">Kernel</text></g>
<g transform="translate(264.20,212.20) scale(0.1)"><text font-size="53.00" font-weight="bold" stroke="#111" stroke-width="2.20" fill="#111" textLength="104.0" lengthAdjust="spacingAndGlyphs">IQR</text></g>
<g transform="translate(154.97,226.90) scale(0.1)"><text font-size="61.61" textLength="192.8" lengthAdjust="spacingAndGlyphs">PCD-CT</text></g>
<g transform="translate(176.03,226.90) scale(0.1)"><text font-size="61.61" textLength="128.7" lengthAdjust="spacingAndGlyphs">Bv40</text></g>
<line x1="201.70" y1="225.20" x2="209.10" y2="225.20" stroke="#ffa640" stroke-width="1.2"/>
<path d="M205.00,225.20L209.10,220.70L213.20,225.20L209.10,229.70Z" fill="#ff8c00"/>
<g transform="translate(204.07,220.70) scale(0.1)"><text font-size="61.61" textLength="114.7" lengthAdjust="spacingAndGlyphs">2.00</text></g>
<g transform="translate(254.80,227.30) scale(0.1)"><text font-size="61.61" textLength="114.7" lengthAdjust="spacingAndGlyphs">1.60</text></g>
<g transform="translate(268.04,227.30) scale(0.1)"><text font-size="61.61" textLength="21.8" lengthAdjust="spacingAndGlyphs">-</text></g>
<g transform="translate(272.00,227.30) scale(0.1)"><text font-size="61.61" textLength="114.7" lengthAdjust="spacingAndGlyphs">2.20</text></g>
<g transform="translate(154.97,247.40) scale(0.1)"><text font-size="61.61" textLength="192.8" lengthAdjust="spacingAndGlyphs">PCD-CT</text></g>
<g transform="translate(176.03,247.40) scale(0.1)"><text font-size="61.61" textLength="128.7" lengthAdjust="spacingAndGlyphs">Bv48</text></g>
<path d="M213.60,244.90L217.70,240.40L221.80,244.90L217.70,249.40Z" fill="#ff8c00"/>
<g transform="translate(212.67,241.10) scale(0.1)"><text font-size="61.61" textLength="114.7" lengthAdjust="spacingAndGlyphs">2.40</text></g>
<g transform="translate(254.80,247.00) scale(0.1)"><text font-size="61.61" textLength="114.7" lengthAdjust="spacingAndGlyphs">2.40</text></g>
<g transform="translate(268.04,247.00) scale(0.1)"><text font-size="61.61" textLength="21.8" lengthAdjust="spacingAndGlyphs">-</text></g>
<g transform="translate(272.00,247.00) scale(0.1)"><text font-size="61.61" textLength="114.7" lengthAdjust="spacingAndGlyphs">2.40</text></g>
<g transform="translate(154.97,267.90) scale(0.1)"><text font-size="61.61" textLength="192.8" lengthAdjust="spacingAndGlyphs">PCD-CT</text></g>
<g transform="translate(176.03,267.90) scale(0.1)"><text font-size="61.61" textLength="128.7" lengthAdjust="spacingAndGlyphs">Bv56</text></g>
<line x1="229.70" y1="265.90" x2="234.40" y2="265.90" stroke="#ffa640" stroke-width="1.2"/>
<path d="M230.30,265.90L234.40,261.40L238.50,265.90L234.40,270.40Z" fill="#ff8c00"/>
<g transform="translate(229.37,261.80) scale(0.1)"><text font-size="61.61" textLength="114.7" lengthAdjust="spacingAndGlyphs">3.20</text></g>
<g transform="translate(254.80,268.00) scale(0.1)"><text font-size="61.61" textLength="114.7" lengthAdjust="spacingAndGlyphs">3.00</text></g>
<g transform="translate(268.04,268.00) scale(0.1)"><text font-size="61.61" textLength="21.8" lengthAdjust="spacingAndGlyphs">-</text></g>
<g transform="translate(272.00,268.00) scale(0.1)"><text font-size="61.61" textLength="114.7" lengthAdjust="spacingAndGlyphs">3.40</text></g>
<g transform="translate(155.33,284.50) scale(0.1)"><text font-size="61.61" textLength="189.2" lengthAdjust="spacingAndGlyphs">EID-CT</text></g>
<g transform="translate(176.03,284.50) scale(0.1)"><text font-size="61.61" textLength="128.7" lengthAdjust="spacingAndGlyphs">Bv40</text></g>
<path d="M192.70,282.10L196.80,277.60L200.90,282.10L196.80,286.60Z" fill="#ff8c00"/>
<g transform="translate(191.77,278.40) scale(0.1)"><text font-size="61.61" textLength="114.7" lengthAdjust="spacingAndGlyphs">1.40</text></g>
<g transform="translate(254.80,284.20) scale(0.1)"><text font-size="61.61" textLength="114.7" lengthAdjust="spacingAndGlyphs">1.20</text></g>
<g transform="translate(268.04,284.20) scale(0.1)"><text font-size="61.61" textLength="21.8" lengthAdjust="spacingAndGlyphs">-</text></g>
<g transform="translate(272.00,284.20) scale(0.1)"><text font-size="61.61" textLength="114.7" lengthAdjust="spacingAndGlyphs">1.60</text></g>
<line x1="188.90" y1="292.20" x2="249.99" y2="292.20" stroke="#222" stroke-width="1"/>
<line x1="189.40" y1="292.20" x2="189.40" y2="295.20" stroke="#222" stroke-width="0.9"/>
<g transform="translate(187.97,303.80) scale(0.1)"><text font-size="61.61" textLength="28.6" lengthAdjust="spacingAndGlyphs">1</text></g>
<line x1="199.42" y1="292.20" x2="199.42" y2="295.20" stroke="#222" stroke-width="0.9"/>
<g transform="translate(195.74,303.80) scale(0.1)"><text font-size="61.61" textLength="73.5" lengthAdjust="spacingAndGlyphs">1.5</text></g>
<line x1="209.43" y1="292.20" x2="209.43" y2="295.20" stroke="#222" stroke-width="0.9"/>
<g transform="translate(208.00,303.80) scale(0.1)"><text font-size="61.61" textLength="28.6" lengthAdjust="spacingAndGlyphs">2</text></g>
<line x1="219.44" y1="292.20" x2="219.44" y2="295.20" stroke="#222" stroke-width="0.9"/>
<g transform="translate(215.77,303.80) scale(0.1)"><text font-size="61.61" textLength="73.5" lengthAdjust="spacingAndGlyphs">2.5</text></g>
<line x1="229.46" y1="292.20" x2="229.46" y2="295.20" stroke="#222" stroke-width="0.9"/>
<g transform="translate(228.03,303.80) scale(0.1)"><text font-size="61.61" textLength="28.6" lengthAdjust="spacingAndGlyphs">3</text></g>
<line x1="239.48" y1="292.20" x2="239.48" y2="295.20" stroke="#222" stroke-width="0.9"/>
<g transform="translate(235.80,303.80) scale(0.1)"><text font-size="61.61" textLength="73.5" lengthAdjust="spacingAndGlyphs">3.5</text></g>
<line x1="249.49" y1="292.20" x2="249.49" y2="295.20" stroke="#222" stroke-width="0.9"/>
<g transform="translate(248.06,303.80) scale(0.1)"><text font-size="61.61" textLength="28.6" lengthAdjust="spacingAndGlyphs">4</text></g>
<rect x="211.50" y="313.50" width="32.00" height="8.00" fill="#fff" stroke="#4a4a4a" stroke-width="1"/>
<g transform="translate(217.10,318.90) scale(0.1)"><text font-size="54.00" font-weight="bold" stroke="#111" stroke-width="2.20" fill="#111" textLength="208.0" lengthAdjust="spacingAndGlyphs">p-value</text></g>
<g transform="translate(171.61,325.21) scale(0.1)"><text font-size="59.78" textLength="129.9" lengthAdjust="spacingAndGlyphs">Bv40</text></g>
<line x1="184.60" y1="323.16" x2="188.90" y2="323.16" stroke="#333" stroke-width="0.8"/>
<rect x="188.90" y="317.70" width="16.43" height="10.93" fill="#ffffff" stroke="none" stroke-width="1" shape-rendering="crispEdges"/>
<g transform="translate(171.61,336.14) scale(0.1)"><text font-size="59.78" textLength="129.9" lengthAdjust="spacingAndGlyphs">Bv48</text></g>
<line x1="184.60" y1="334.09" x2="188.90" y2="334.09" stroke="#333" stroke-width="0.8"/>
<rect x="188.90" y="328.63" width="16.43" height="10.93" fill="#c2c2c2" stroke="none" stroke-width="1" shape-rendering="crispEdges"/>
<rect x="205.33" y="328.63" width="16.43" height="10.93" fill="#ffffff" stroke="none" stroke-width="1" shape-rendering="crispEdges"/>
<g transform="translate(171.61,347.07) scale(0.1)"><text font-size="59.78" textLength="129.9" lengthAdjust="spacingAndGlyphs">Bv56</text></g>
<line x1="184.60" y1="345.02" x2="188.90" y2="345.02" stroke="#333" stroke-width="0.8"/>
<rect x="188.90" y="339.56" width="16.43" height="10.93" fill="#a3a3a3" stroke="none" stroke-width="1" shape-rendering="crispEdges"/>
<rect x="205.33" y="339.56" width="16.43" height="10.93" fill="#ffffff" stroke="none" stroke-width="1" shape-rendering="crispEdges"/>
<rect x="221.76" y="339.56" width="16.43" height="10.93" fill="#ffffff" stroke="none" stroke-width="1" shape-rendering="crispEdges"/>
<g transform="translate(161.31,358.00) scale(0.1)"><text font-size="59.78" textLength="95.1" lengthAdjust="spacingAndGlyphs">EID</text></g>
<g transform="translate(172.48,358.00) scale(0.1)"><text font-size="59.78" textLength="121.2" lengthAdjust="spacingAndGlyphs">Bv40</text></g>
<line x1="184.60" y1="355.95" x2="188.90" y2="355.95" stroke="#333" stroke-width="0.8"/>
<rect x="188.90" y="350.49" width="16.43" height="10.93" fill="#ffffff" stroke="none" stroke-width="1" shape-rendering="crispEdges"/>
<rect x="205.33" y="350.49" width="16.43" height="10.93" fill="#060606" stroke="none" stroke-width="1" shape-rendering="crispEdges"/>
<rect x="221.76" y="350.49" width="16.43" height="10.93" fill="#060606" stroke="none" stroke-width="1" shape-rendering="crispEdges"/>
<rect x="238.19" y="350.49" width="16.43" height="10.93" fill="#ffffff" stroke="none" stroke-width="1" shape-rendering="crispEdges"/>
<rect x="188.50" y="317.50" width="17.00" height="11.00" fill="none" stroke="#3c3c3c" stroke-width="1"/>
<line x1="188.50" y1="318.00" x2="188.50" y2="328.00" stroke="#909090" stroke-width="1"/>
<rect x="205.50" y="328.50" width="16.00" height="11.00" fill="none" stroke="#3c3c3c" stroke-width="1"/>
<rect x="205.50" y="339.50" width="16.00" height="11.00" fill="none" stroke="#3c3c3c" stroke-width="1"/>
<rect x="221.50" y="339.50" width="17.00" height="11.00" fill="none" stroke="#3c3c3c" stroke-width="1"/>
<rect x="188.50" y="350.50" width="17.00" height="11.00" fill="none" stroke="#3c3c3c" stroke-width="1"/>
<line x1="188.50" y1="351.00" x2="188.50" y2="361.00" stroke="#909090" stroke-width="1"/>
<rect x="238.50" y="350.50" width="16.00" height="11.00" fill="none" stroke="#3c3c3c" stroke-width="1"/>
<g transform="translate(195.56,325.21) scale(0.1)"><text font-size="59.78" textLength="31.1" lengthAdjust="spacingAndGlyphs">1</text></g>
<g transform="translate(191.55,336.14) scale(0.1)"><text font-size="59.78" textLength="111.3" lengthAdjust="spacingAndGlyphs">0.50</text></g>
<g transform="translate(211.99,336.14) scale(0.1)"><text font-size="59.78" textLength="31.1" lengthAdjust="spacingAndGlyphs">1</text></g>
<g transform="translate(191.55,347.07) scale(0.1)"><text font-size="59.78" textLength="111.3" lengthAdjust="spacingAndGlyphs">0.21</text></g>
<g transform="translate(211.99,347.07) scale(0.1)"><text font-size="59.78" textLength="31.1" lengthAdjust="spacingAndGlyphs">1</text></g>
<g transform="translate(228.42,347.07) scale(0.1)"><text font-size="59.78" textLength="31.1" lengthAdjust="spacingAndGlyphs">1</text></g>
<g transform="translate(191.55,358.00) scale(0.1)"><text font-size="59.78" textLength="111.3" lengthAdjust="spacingAndGlyphs">0.55</text></g>
<g transform="translate(207.98,358.00) scale(0.1)"><text font-size="59.78" fill="#ffffff" textLength="111.3" lengthAdjust="spacingAndGlyphs">0.07</text></g>
<g transform="translate(224.41,358.00) scale(0.1)"><text font-size="59.78" fill="#ffffff" textLength="111.3" lengthAdjust="spacingAndGlyphs">0.05</text></g>
<g transform="translate(244.85,358.00) scale(0.1)"><text font-size="59.78" textLength="31.1" lengthAdjust="spacingAndGlyphs">1</text></g>
<line x1="197.12" y1="361.42" x2="197.12" y2="364.42" stroke="#333" stroke-width="0.8"/>
<g transform="translate(191.72,366.12) rotate(30) scale(0.1)"><text font-size="59.78" fill="#111" textLength="124.9" lengthAdjust="spacingAndGlyphs">Bv40</text></g>
<line x1="213.55" y1="361.42" x2="213.55" y2="364.42" stroke="#333" stroke-width="0.8"/>
<g transform="translate(208.15,366.12) rotate(30) scale(0.1)"><text font-size="59.78" fill="#111" textLength="124.9" lengthAdjust="spacingAndGlyphs">Bv48</text></g>
<line x1="229.98" y1="361.42" x2="229.98" y2="364.42" stroke="#333" stroke-width="0.8"/>
<g transform="translate(224.58,366.12) rotate(30) scale(0.1)"><text font-size="59.78" fill="#111" textLength="124.9" lengthAdjust="spacingAndGlyphs">Bv56</text></g>
<line x1="246.41" y1="361.42" x2="246.41" y2="364.42" stroke="#333" stroke-width="0.8"/>
<g transform="translate(241.00,366.12) rotate(30) scale(0.1)"><text font-size="59.78" fill="#111" textLength="240.1" lengthAdjust="spacingAndGlyphs">EID Bv40</text></g>
<line x1="322.20" y1="214.60" x2="322.20" y2="291.70" stroke="#e4e4e4" stroke-width="1"/>
<rect x="332.50" y="196.50" width="41.00" height="10.00" fill="#fff" stroke="#4a4a4a" stroke-width="1"/>
<g transform="translate(343.10,203.90) scale(0.1)"><text font-size="63.50" font-weight="bold" stroke="#111" stroke-width="2.20" font-style="italic" fill="#111" textLength="194.0" lengthAdjust="spacingAndGlyphs">Noise</text></g>
<g transform="translate(297.70,212.00) scale(0.1)"><text font-size="53.00" font-weight="bold" stroke="#111" stroke-width="2.20" fill="#111" textLength="184.0" lengthAdjust="spacingAndGlyphs">Kernel</text></g>
<g transform="translate(394.10,210.20) scale(0.1)"><text font-size="53.00" font-weight="bold" stroke="#111" stroke-width="2.20" fill="#111" textLength="104.0" lengthAdjust="spacingAndGlyphs">IQR</text></g>
<g transform="translate(287.67,226.30) scale(0.1)"><text font-size="61.61" textLength="192.8" lengthAdjust="spacingAndGlyphs">PCD-CT</text></g>
<g transform="translate(308.73,226.30) scale(0.1)"><text font-size="61.61" textLength="128.7" lengthAdjust="spacingAndGlyphs">Bv40</text></g>
<line x1="369.30" y1="225.20" x2="379.70" y2="225.20" stroke="#55ff55" stroke-width="1.2"/>
<path d="M365.20,225.20L369.30,220.70L373.40,225.20L369.30,229.70Z" fill="#00ff00"/>
<g transform="translate(364.27,220.50) scale(0.1)"><text font-size="61.61" textLength="114.7" lengthAdjust="spacingAndGlyphs">3.00</text></g>
<g transform="translate(385.60,227.30) scale(0.1)"><text font-size="61.61" textLength="114.7" lengthAdjust="spacingAndGlyphs">2.80</text></g>
<g transform="translate(398.84,227.30) scale(0.1)"><text font-size="61.61" textLength="21.8" lengthAdjust="spacingAndGlyphs">-</text></g>
<g transform="translate(402.80,227.30) scale(0.1)"><text font-size="61.61" textLength="114.7" lengthAdjust="spacingAndGlyphs">3.40</text></g>
<g transform="translate(287.67,246.80) scale(0.1)"><text font-size="61.61" textLength="192.8" lengthAdjust="spacingAndGlyphs">PCD-CT</text></g>
<g transform="translate(308.73,246.80) scale(0.1)"><text font-size="61.61" textLength="128.7" lengthAdjust="spacingAndGlyphs">Bv48</text></g>
<line x1="369.30" y1="244.70" x2="378.30" y2="244.70" stroke="#55ff55" stroke-width="1.2"/>
<path d="M365.20,244.70L369.30,240.20L373.40,244.70L369.30,249.20Z" fill="#00ff00"/>
<g transform="translate(364.27,240.30) scale(0.1)"><text font-size="61.61" textLength="114.7" lengthAdjust="spacingAndGlyphs">3.00</text></g>
<g transform="translate(386.60,246.80) scale(0.1)"><text font-size="61.61" textLength="114.7" lengthAdjust="spacingAndGlyphs">3.00</text></g>
<g transform="translate(399.84,246.80) scale(0.1)"><text font-size="61.61" textLength="21.8" lengthAdjust="spacingAndGlyphs">-</text></g>
<g transform="translate(403.80,246.80) scale(0.1)"><text font-size="61.61" textLength="114.7" lengthAdjust="spacingAndGlyphs">3.40</text></g>
<g transform="translate(287.67,266.50) scale(0.1)"><text font-size="61.61" textLength="192.8" lengthAdjust="spacingAndGlyphs">PCD-CT</text></g>
<g transform="translate(308.73,266.50) scale(0.1)"><text font-size="61.61" textLength="128.7" lengthAdjust="spacingAndGlyphs">Bv56</text></g>
<path d="M369.10,264.50L373.20,260.00L377.30,264.50L373.20,269.00Z" fill="#00ff00"/>
<g transform="translate(368.17,260.20) scale(0.1)"><text font-size="61.61" textLength="114.7" lengthAdjust="spacingAndGlyphs">3.20</text></g>
<g transform="translate(386.60,266.60) scale(0.1)"><text font-size="61.61" textLength="114.7" lengthAdjust="spacingAndGlyphs">3.00</text></g>
<g transform="translate(399.84,266.60) scale(0.1)"><text font-size="61.61" textLength="21.8" lengthAdjust="spacingAndGlyphs">-</text></g>
<g transform="translate(403.80,266.60) scale(0.1)"><text font-size="61.61" textLength="114.7" lengthAdjust="spacingAndGlyphs">3.20</text></g>
<g transform="translate(288.03,284.90) scale(0.1)"><text font-size="61.61" textLength="189.2" lengthAdjust="spacingAndGlyphs">EID-CT</text></g>
<g transform="translate(308.73,284.90) scale(0.1)"><text font-size="61.61" textLength="128.7" lengthAdjust="spacingAndGlyphs">Bv40</text></g>
<path d="M362.80,282.90L366.90,278.40L371.00,282.90L366.90,287.40Z" fill="#00ff00"/>
<g transform="translate(361.87,278.80) scale(0.1)"><text font-size="61.61" textLength="114.7" lengthAdjust="spacingAndGlyphs">2.80</text></g>
<g transform="translate(387.20,285.00) scale(0.1)"><text font-size="61.61" textLength="114.7" lengthAdjust="spacingAndGlyphs">2.80</text></g>
<g transform="translate(400.44,285.00) scale(0.1)"><text font-size="61.61" textLength="21.8" lengthAdjust="spacingAndGlyphs">-</text></g>
<g transform="translate(404.40,285.00) scale(0.1)"><text font-size="61.61" textLength="114.7" lengthAdjust="spacingAndGlyphs">2.80</text></g>
<line x1="321.60" y1="292.20" x2="382.10" y2="292.20" stroke="#222" stroke-width="1"/>
<line x1="322.10" y1="292.20" x2="322.10" y2="295.20" stroke="#222" stroke-width="0.9"/>
<g transform="translate(320.67,303.90) scale(0.1)"><text font-size="61.61" textLength="28.6" lengthAdjust="spacingAndGlyphs">1</text></g>
<line x1="334.00" y1="292.20" x2="334.00" y2="295.20" stroke="#222" stroke-width="0.9"/>
<g transform="translate(330.33,303.90) scale(0.1)"><text font-size="61.61" textLength="73.5" lengthAdjust="spacingAndGlyphs">1.5</text></g>
<line x1="345.90" y1="292.20" x2="345.90" y2="295.20" stroke="#222" stroke-width="0.9"/>
<g transform="translate(344.47,303.90) scale(0.1)"><text font-size="61.61" textLength="28.6" lengthAdjust="spacingAndGlyphs">2</text></g>
<line x1="357.80" y1="292.20" x2="357.80" y2="295.20" stroke="#222" stroke-width="0.9"/>
<g transform="translate(354.13,303.90) scale(0.1)"><text font-size="61.61" textLength="73.5" lengthAdjust="spacingAndGlyphs">2.5</text></g>
<line x1="369.70" y1="292.20" x2="369.70" y2="295.20" stroke="#222" stroke-width="0.9"/>
<g transform="translate(368.27,303.90) scale(0.1)"><text font-size="61.61" textLength="28.6" lengthAdjust="spacingAndGlyphs">3</text></g>
<line x1="381.60" y1="292.20" x2="381.60" y2="295.20" stroke="#222" stroke-width="0.9"/>
<g transform="translate(377.93,303.90) scale(0.1)"><text font-size="61.61" textLength="73.5" lengthAdjust="spacingAndGlyphs">3.5</text></g>
<rect x="341.50" y="312.50" width="33.00" height="8.00" fill="#fff" stroke="#4a4a4a" stroke-width="1"/>
<g transform="translate(347.85,318.20) scale(0.1)"><text font-size="54.00" font-weight="bold" stroke="#111" stroke-width="2.20" fill="#111" textLength="208.0" lengthAdjust="spacingAndGlyphs">p-value</text></g>
<g transform="translate(302.71,324.73) scale(0.1)"><text font-size="59.78" textLength="129.9" lengthAdjust="spacingAndGlyphs">Bv40</text></g>
<line x1="315.70" y1="322.68" x2="320.00" y2="322.68" stroke="#333" stroke-width="0.8"/>
<rect x="320.00" y="317.20" width="16.42" height="10.95" fill="#ffffff" stroke="none" stroke-width="1" shape-rendering="crispEdges"/>
<g transform="translate(302.71,335.68) scale(0.1)"><text font-size="59.78" textLength="129.9" lengthAdjust="spacingAndGlyphs">Bv48</text></g>
<line x1="315.70" y1="333.62" x2="320.00" y2="333.62" stroke="#333" stroke-width="0.8"/>
<rect x="320.00" y="328.15" width="16.42" height="10.95" fill="#ffffff" stroke="none" stroke-width="1" shape-rendering="crispEdges"/>
<rect x="336.42" y="328.15" width="16.42" height="10.95" fill="#ffffff" stroke="none" stroke-width="1" shape-rendering="crispEdges"/>
<g transform="translate(302.71,346.62) scale(0.1)"><text font-size="59.78" textLength="129.9" lengthAdjust="spacingAndGlyphs">Bv56</text></g>
<line x1="315.70" y1="344.57" x2="320.00" y2="344.57" stroke="#333" stroke-width="0.8"/>
<rect x="320.00" y="339.10" width="16.42" height="10.95" fill="#ffffff" stroke="none" stroke-width="1" shape-rendering="crispEdges"/>
<rect x="336.42" y="339.10" width="16.42" height="10.95" fill="#ffffff" stroke="none" stroke-width="1" shape-rendering="crispEdges"/>
<rect x="352.84" y="339.10" width="16.42" height="10.95" fill="#ffffff" stroke="none" stroke-width="1" shape-rendering="crispEdges"/>
<g transform="translate(292.41,357.57) scale(0.1)"><text font-size="59.78" textLength="95.1" lengthAdjust="spacingAndGlyphs">EID</text></g>
<g transform="translate(303.58,357.57) scale(0.1)"><text font-size="59.78" textLength="121.2" lengthAdjust="spacingAndGlyphs">Bv40</text></g>
<line x1="315.70" y1="355.52" x2="320.00" y2="355.52" stroke="#333" stroke-width="0.8"/>
<rect x="320.00" y="350.05" width="16.42" height="10.95" fill="#ffffff" stroke="none" stroke-width="1" shape-rendering="crispEdges"/>
<rect x="336.42" y="350.05" width="16.42" height="10.95" fill="#ffffff" stroke="none" stroke-width="1" shape-rendering="crispEdges"/>
<rect x="352.84" y="350.05" width="16.42" height="10.95" fill="#a3a3a3" stroke="none" stroke-width="1" shape-rendering="crispEdges"/>
<rect x="369.26" y="350.05" width="16.42" height="10.95" fill="#ffffff" stroke="none" stroke-width="1" shape-rendering="crispEdges"/>
<rect x="320.50" y="317.50" width="16.00" height="11.00" fill="none" stroke="#3c3c3c" stroke-width="1"/>
<line x1="320.50" y1="318.00" x2="320.50" y2="328.00" stroke="#909090" stroke-width="1"/>
<rect x="320.50" y="328.50" width="16.00" height="11.00" fill="none" stroke="#3c3c3c" stroke-width="1"/>
<line x1="320.50" y1="329.00" x2="320.50" y2="339.00" stroke="#909090" stroke-width="1"/>
<rect x="336.50" y="328.50" width="16.00" height="11.00" fill="none" stroke="#3c3c3c" stroke-width="1"/>
<rect x="320.50" y="339.50" width="16.00" height="11.00" fill="none" stroke="#3c3c3c" stroke-width="1"/>
<line x1="320.50" y1="340.00" x2="320.50" y2="350.00" stroke="#909090" stroke-width="1"/>
<rect x="336.50" y="339.50" width="16.00" height="11.00" fill="none" stroke="#3c3c3c" stroke-width="1"/>
<rect x="352.50" y="339.50" width="17.00" height="11.00" fill="none" stroke="#3c3c3c" stroke-width="1"/>
<rect x="320.50" y="350.50" width="16.00" height="10.00" fill="none" stroke="#3c3c3c" stroke-width="1"/>
<line x1="320.50" y1="351.00" x2="320.50" y2="360.00" stroke="#909090" stroke-width="1"/>
<rect x="336.50" y="350.50" width="16.00" height="10.00" fill="none" stroke="#3c3c3c" stroke-width="1"/>
<rect x="369.50" y="350.50" width="16.00" height="10.00" fill="none" stroke="#3c3c3c" stroke-width="1"/>
<g transform="translate(326.65,324.73) scale(0.1)"><text font-size="59.78" textLength="31.1" lengthAdjust="spacingAndGlyphs">1</text></g>
<g transform="translate(326.65,335.68) scale(0.1)"><text font-size="59.78" textLength="31.1" lengthAdjust="spacingAndGlyphs">1</text></g>
<g transform="translate(343.07,335.68) scale(0.1)"><text font-size="59.78" textLength="31.1" lengthAdjust="spacingAndGlyphs">1</text></g>
<g transform="translate(326.65,346.62) scale(0.1)"><text font-size="59.78" textLength="31.1" lengthAdjust="spacingAndGlyphs">1</text></g>
<g transform="translate(343.07,346.62) scale(0.1)"><text font-size="59.78" textLength="31.1" lengthAdjust="spacingAndGlyphs">1</text></g>
<g transform="translate(359.49,346.62) scale(0.1)"><text font-size="59.78" textLength="31.1" lengthAdjust="spacingAndGlyphs">1</text></g>
<g transform="translate(326.65,357.57) scale(0.1)"><text font-size="59.78" textLength="31.1" lengthAdjust="spacingAndGlyphs">1</text></g>
<g transform="translate(343.07,357.57) scale(0.1)"><text font-size="59.78" textLength="31.1" lengthAdjust="spacingAndGlyphs">1</text></g>
<g transform="translate(357.04,357.57) scale(0.1)"><text font-size="59.78" textLength="80.1" lengthAdjust="spacingAndGlyphs">0.7</text></g>
<g transform="translate(375.91,357.57) scale(0.1)"><text font-size="59.78" textLength="31.1" lengthAdjust="spacingAndGlyphs">1</text></g>
<line x1="328.21" y1="361.00" x2="328.21" y2="364.00" stroke="#333" stroke-width="0.8"/>
<g transform="translate(322.81,365.70) rotate(30) scale(0.1)"><text font-size="59.78" fill="#111" textLength="124.9" lengthAdjust="spacingAndGlyphs">Bv40</text></g>
<line x1="344.63" y1="361.00" x2="344.63" y2="364.00" stroke="#333" stroke-width="0.8"/>
<g transform="translate(339.23,365.70) rotate(30) scale(0.1)"><text font-size="59.78" fill="#111" textLength="124.9" lengthAdjust="spacingAndGlyphs">Bv48</text></g>
<line x1="361.05" y1="361.00" x2="361.05" y2="364.00" stroke="#333" stroke-width="0.8"/>
<g transform="translate(355.65,365.70) rotate(30) scale(0.1)"><text font-size="59.78" fill="#111" textLength="124.9" lengthAdjust="spacingAndGlyphs">Bv56</text></g>
<line x1="377.47" y1="361.00" x2="377.47" y2="364.00" stroke="#333" stroke-width="0.8"/>
<g transform="translate(372.07,365.70) rotate(30) scale(0.1)"><text font-size="59.78" fill="#111" textLength="240.1" lengthAdjust="spacingAndGlyphs">EID Bv40</text></g>
<line x1="454.50" y1="214.60" x2="454.50" y2="291.70" stroke="#e4e4e4" stroke-width="1"/>
<rect x="465.50" y="197.50" width="40.00" height="9.00" fill="#fff" stroke="#4a4a4a" stroke-width="1"/>
<g transform="translate(470.10,203.90) scale(0.1)"><text font-size="63.50" font-weight="bold" stroke="#111" stroke-width="2.20" font-style="italic" fill="#111" textLength="337.0" lengthAdjust="spacingAndGlyphs">Blooming</text></g>
<g transform="translate(428.20,213.30) scale(0.1)"><text font-size="53.00" font-weight="bold" stroke="#111" stroke-width="2.20" fill="#111" textLength="184.0" lengthAdjust="spacingAndGlyphs">Kernel</text></g>
<g transform="translate(526.40,213.20) scale(0.1)"><text font-size="53.00" font-weight="bold" stroke="#111" stroke-width="2.20" fill="#111" textLength="104.0" lengthAdjust="spacingAndGlyphs">IQR</text></g>
<g transform="translate(419.97,228.80) scale(0.1)"><text font-size="61.61" textLength="192.8" lengthAdjust="spacingAndGlyphs">PCD-CT</text></g>
<g transform="translate(441.03,228.80) scale(0.1)"><text font-size="61.61" textLength="128.7" lengthAdjust="spacingAndGlyphs">Bv40</text></g>
<line x1="484.70" y1="227.10" x2="497.60" y2="227.10" stroke="#5050ff" stroke-width="1.2"/>
<path d="M480.60,227.10L484.70,222.60L488.80,227.10L484.70,231.60Z" fill="#0000ff"/>
<g transform="translate(479.67,222.50) scale(0.1)"><text font-size="61.61" textLength="114.7" lengthAdjust="spacingAndGlyphs">2.60</text></g>
<g transform="translate(517.80,229.20) scale(0.1)"><text font-size="61.61" textLength="114.7" lengthAdjust="spacingAndGlyphs">2.40</text></g>
<g transform="translate(531.04,229.20) scale(0.1)"><text font-size="61.61" textLength="21.8" lengthAdjust="spacingAndGlyphs">-</text></g>
<g transform="translate(535.00,229.20) scale(0.1)"><text font-size="61.61" textLength="114.7" lengthAdjust="spacingAndGlyphs">2.80</text></g>
<g transform="translate(419.97,247.00) scale(0.1)"><text font-size="61.61" textLength="192.8" lengthAdjust="spacingAndGlyphs">PCD-CT</text></g>
<g transform="translate(441.03,247.00) scale(0.1)"><text font-size="61.61" textLength="128.7" lengthAdjust="spacingAndGlyphs">Bv48</text></g>
<line x1="487.20" y1="245.30" x2="492.50" y2="245.30" stroke="#5050ff" stroke-width="1.2"/>
<path d="M488.40,245.30L492.50,240.80L496.60,245.30L492.50,249.80Z" fill="#0000ff"/>
<g transform="translate(487.47,241.60) scale(0.1)"><text font-size="61.61" textLength="114.7" lengthAdjust="spacingAndGlyphs">2.40</text></g>
<g transform="translate(517.80,247.40) scale(0.1)"><text font-size="61.61" textLength="114.7" lengthAdjust="spacingAndGlyphs">2.40</text></g>
<g transform="translate(531.04,247.40) scale(0.1)"><text font-size="61.61" textLength="21.8" lengthAdjust="spacingAndGlyphs">-</text></g>
<g transform="translate(535.00,247.40) scale(0.1)"><text font-size="61.61" textLength="114.7" lengthAdjust="spacingAndGlyphs">3.00</text></g>
<g transform="translate(419.97,267.30) scale(0.1)"><text font-size="61.61" textLength="192.8" lengthAdjust="spacingAndGlyphs">PCD-CT</text></g>
<g transform="translate(441.03,267.30) scale(0.1)"><text font-size="61.61" textLength="128.7" lengthAdjust="spacingAndGlyphs">Bv56</text></g>
<line x1="496.40" y1="265.90" x2="514.00" y2="265.90" stroke="#5050ff" stroke-width="1.2"/>
<path d="M501.70,265.90L505.80,261.40L509.90,265.90L505.80,270.40Z" fill="#0000ff"/>
<g transform="translate(500.77,261.60) scale(0.1)"><text font-size="61.61" textLength="114.7" lengthAdjust="spacingAndGlyphs">3.20</text></g>
<g transform="translate(516.90,268.00) scale(0.1)"><text font-size="61.61" textLength="114.7" lengthAdjust="spacingAndGlyphs">3.00</text></g>
<g transform="translate(530.14,268.00) scale(0.1)"><text font-size="61.61" textLength="21.8" lengthAdjust="spacingAndGlyphs">-</text></g>
<g transform="translate(534.10,268.00) scale(0.1)"><text font-size="61.61" textLength="114.7" lengthAdjust="spacingAndGlyphs">3.60</text></g>
<g transform="translate(420.33,283.90) scale(0.1)"><text font-size="61.61" textLength="189.2" lengthAdjust="spacingAndGlyphs">EID-CT</text></g>
<g transform="translate(441.03,283.90) scale(0.1)"><text font-size="61.61" textLength="128.7" lengthAdjust="spacingAndGlyphs">Bv40</text></g>
<line x1="473.50" y1="282.10" x2="481.40" y2="282.10" stroke="#5050ff" stroke-width="1.2"/>
<path d="M469.40,282.10L473.50,277.60L477.60,282.10L473.50,286.60Z" fill="#0000ff"/>
<g transform="translate(468.47,278.20) scale(0.1)"><text font-size="61.61" textLength="114.7" lengthAdjust="spacingAndGlyphs">1.80</text></g>
<g transform="translate(516.90,284.20) scale(0.1)"><text font-size="61.61" textLength="114.7" lengthAdjust="spacingAndGlyphs">1.80</text></g>
<g transform="translate(530.14,284.20) scale(0.1)"><text font-size="61.61" textLength="21.8" lengthAdjust="spacingAndGlyphs">-</text></g>
<g transform="translate(534.10,284.20) scale(0.1)"><text font-size="61.61" textLength="114.7" lengthAdjust="spacingAndGlyphs">2.00</text></g>
<line x1="453.90" y1="292.20" x2="512.20" y2="292.20" stroke="#222" stroke-width="1"/>
<line x1="454.40" y1="292.20" x2="454.40" y2="295.20" stroke="#222" stroke-width="0.9"/>
<g transform="translate(452.97,303.70) scale(0.1)"><text font-size="61.61" textLength="28.6" lengthAdjust="spacingAndGlyphs">1</text></g>
<line x1="463.95" y1="292.20" x2="463.95" y2="295.20" stroke="#222" stroke-width="0.9"/>
<g transform="translate(460.28,303.70) scale(0.1)"><text font-size="61.61" textLength="73.5" lengthAdjust="spacingAndGlyphs">1.5</text></g>
<line x1="473.50" y1="292.20" x2="473.50" y2="295.20" stroke="#222" stroke-width="0.9"/>
<g transform="translate(472.07,303.70) scale(0.1)"><text font-size="61.61" textLength="28.6" lengthAdjust="spacingAndGlyphs">2</text></g>
<line x1="483.05" y1="292.20" x2="483.05" y2="295.20" stroke="#222" stroke-width="0.9"/>
<g transform="translate(479.38,303.70) scale(0.1)"><text font-size="61.61" textLength="73.5" lengthAdjust="spacingAndGlyphs">2.5</text></g>
<line x1="492.60" y1="292.20" x2="492.60" y2="295.20" stroke="#222" stroke-width="0.9"/>
<g transform="translate(491.17,303.70) scale(0.1)"><text font-size="61.61" textLength="28.6" lengthAdjust="spacingAndGlyphs">3</text></g>
<line x1="502.15" y1="292.20" x2="502.15" y2="295.20" stroke="#222" stroke-width="0.9"/>
<g transform="translate(498.48,303.70) scale(0.1)"><text font-size="61.61" textLength="73.5" lengthAdjust="spacingAndGlyphs">3.5</text></g>
<line x1="511.70" y1="292.20" x2="511.70" y2="295.20" stroke="#222" stroke-width="0.9"/>
<g transform="translate(510.27,303.70) scale(0.1)"><text font-size="61.61" textLength="28.6" lengthAdjust="spacingAndGlyphs">4</text></g>
<rect x="475.50" y="312.50" width="33.00" height="8.00" fill="#fff" stroke="#4a4a4a" stroke-width="1"/>
<g transform="translate(481.65,317.70) scale(0.1)"><text font-size="54.00" font-weight="bold" stroke="#111" stroke-width="2.20" fill="#111" textLength="208.0" lengthAdjust="spacingAndGlyphs">p-value</text></g>
<g transform="translate(436.61,323.97) scale(0.1)"><text font-size="59.78" textLength="129.9" lengthAdjust="spacingAndGlyphs">Bv40</text></g>
<line x1="449.60" y1="321.92" x2="453.90" y2="321.92" stroke="#333" stroke-width="0.8"/>
<rect x="453.90" y="316.50" width="16.43" height="10.83" fill="#ffffff" stroke="none" stroke-width="1" shape-rendering="crispEdges"/>
<g transform="translate(436.61,334.80) scale(0.1)"><text font-size="59.78" textLength="129.9" lengthAdjust="spacingAndGlyphs">Bv48</text></g>
<line x1="449.60" y1="332.75" x2="453.90" y2="332.75" stroke="#333" stroke-width="0.8"/>
<rect x="453.90" y="327.33" width="16.43" height="10.83" fill="#ffffff" stroke="none" stroke-width="1" shape-rendering="crispEdges"/>
<rect x="470.33" y="327.33" width="16.43" height="10.83" fill="#ffffff" stroke="none" stroke-width="1" shape-rendering="crispEdges"/>
<g transform="translate(436.61,345.63) scale(0.1)"><text font-size="59.78" textLength="129.9" lengthAdjust="spacingAndGlyphs">Bv56</text></g>
<line x1="449.60" y1="343.58" x2="453.90" y2="343.58" stroke="#333" stroke-width="0.8"/>
<rect x="453.90" y="338.16" width="16.43" height="10.83" fill="#a3a3a3" stroke="none" stroke-width="1" shape-rendering="crispEdges"/>
<rect x="470.33" y="338.16" width="16.43" height="10.83" fill="#a3a3a3" stroke="none" stroke-width="1" shape-rendering="crispEdges"/>
<rect x="486.76" y="338.16" width="16.43" height="10.83" fill="#ffffff" stroke="none" stroke-width="1" shape-rendering="crispEdges"/>
<g transform="translate(426.31,356.46) scale(0.1)"><text font-size="59.78" textLength="95.1" lengthAdjust="spacingAndGlyphs">EID</text></g>
<g transform="translate(437.48,356.46) scale(0.1)"><text font-size="59.78" textLength="121.2" lengthAdjust="spacingAndGlyphs">Bv40</text></g>
<line x1="449.60" y1="354.41" x2="453.90" y2="354.41" stroke="#333" stroke-width="0.8"/>
<rect x="453.90" y="348.99" width="16.43" height="10.83" fill="#a3a3a3" stroke="none" stroke-width="1" shape-rendering="crispEdges"/>
<rect x="470.33" y="348.99" width="16.43" height="10.83" fill="#2b2b2b" stroke="none" stroke-width="1" shape-rendering="crispEdges"/>
<rect x="486.76" y="348.99" width="16.43" height="10.83" fill="#060606" stroke="none" stroke-width="1" shape-rendering="crispEdges"/>
<rect x="503.19" y="348.99" width="16.43" height="10.83" fill="#ffffff" stroke="none" stroke-width="1" shape-rendering="crispEdges"/>
<rect x="453.50" y="316.50" width="17.00" height="11.00" fill="none" stroke="#3c3c3c" stroke-width="1"/>
<line x1="453.50" y1="317.00" x2="453.50" y2="327.00" stroke="#909090" stroke-width="1"/>
<rect x="453.50" y="327.50" width="17.00" height="11.00" fill="none" stroke="#3c3c3c" stroke-width="1"/>
<line x1="453.50" y1="328.00" x2="453.50" y2="338.00" stroke="#909090" stroke-width="1"/>
<rect x="470.50" y="327.50" width="16.00" height="11.00" fill="none" stroke="#3c3c3c" stroke-width="1"/>
<rect x="486.50" y="338.50" width="17.00" height="10.00" fill="none" stroke="#3c3c3c" stroke-width="1"/>
<rect x="503.50" y="348.50" width="16.00" height="11.00" fill="none" stroke="#3c3c3c" stroke-width="1"/>
<g transform="translate(460.56,323.97) scale(0.1)"><text font-size="59.78" textLength="31.1" lengthAdjust="spacingAndGlyphs">1</text></g>
<g transform="translate(460.56,334.80) scale(0.1)"><text font-size="59.78" textLength="31.1" lengthAdjust="spacingAndGlyphs">1</text></g>
<g transform="translate(476.99,334.80) scale(0.1)"><text font-size="59.78" textLength="31.1" lengthAdjust="spacingAndGlyphs">1</text></g>
<g transform="translate(456.55,345.63) scale(0.1)"><text font-size="59.78" textLength="111.3" lengthAdjust="spacingAndGlyphs">0.52</text></g>
<g transform="translate(474.54,345.63) scale(0.1)"><text font-size="59.78" textLength="80.1" lengthAdjust="spacingAndGlyphs">0.7</text></g>
<g transform="translate(493.42,345.63) scale(0.1)"><text font-size="59.78" textLength="31.1" lengthAdjust="spacingAndGlyphs">1</text></g>
<g transform="translate(456.55,356.46) scale(0.1)"><text font-size="59.78" textLength="111.3" lengthAdjust="spacingAndGlyphs">0.56</text></g>
<g transform="translate(472.98,356.46) scale(0.1)"><text font-size="59.78" fill="#eeeeee" textLength="111.3" lengthAdjust="spacingAndGlyphs">0.07</text></g>
<g transform="translate(489.41,356.46) scale(0.1)"><text font-size="59.78" fill="#ffffff" textLength="111.3" lengthAdjust="spacingAndGlyphs">0.05</text></g>
<g transform="translate(509.85,356.46) scale(0.1)"><text font-size="59.78" textLength="31.1" lengthAdjust="spacingAndGlyphs">1</text></g>
<line x1="462.11" y1="359.82" x2="462.11" y2="362.82" stroke="#333" stroke-width="0.8"/>
<g transform="translate(456.71,364.52) rotate(30) scale(0.1)"><text font-size="59.78" fill="#111" textLength="124.9" lengthAdjust="spacingAndGlyphs">Bv40</text></g>
<line x1="478.54" y1="359.82" x2="478.54" y2="362.82" stroke="#333" stroke-width="0.8"/>
<g transform="translate(473.14,364.52) rotate(30) scale(0.1)"><text font-size="59.78" fill="#111" textLength="124.9" lengthAdjust="spacingAndGlyphs">Bv48</text></g>
<line x1="494.97" y1="359.82" x2="494.97" y2="362.82" stroke="#333" stroke-width="0.8"/>
<g transform="translate(489.57,364.52) rotate(30) scale(0.1)"><text font-size="59.78" fill="#111" textLength="124.9" lengthAdjust="spacingAndGlyphs">Bv56</text></g>
<line x1="511.40" y1="359.82" x2="511.40" y2="362.82" stroke="#333" stroke-width="0.8"/>
<g transform="translate(506.00,364.52) rotate(30) scale(0.1)"><text font-size="59.78" fill="#111" textLength="240.1" lengthAdjust="spacingAndGlyphs">EID Bv40</text></g>
<line x1="587.30" y1="214.60" x2="587.30" y2="296.10" stroke="#e4e4e4" stroke-width="1"/>
<rect x="598.50" y="195.50" width="42.00" height="16.00" fill="#fff" stroke="#4a4a4a" stroke-width="1"/>
<g transform="translate(600.60,202.10) scale(0.1)"><text font-size="63.50" font-weight="bold" stroke="#111" stroke-width="2.20" font-style="italic" fill="#111" textLength="374.0" lengthAdjust="spacingAndGlyphs">Diagnostic</text></g>
<g transform="translate(599.90,209.80) scale(0.1)"><text font-size="63.50" font-weight="bold" stroke="#111" stroke-width="2.20" font-style="italic" fill="#111" textLength="392.0" lengthAdjust="spacingAndGlyphs">Confidence</text></g>
<g transform="translate(560.70,210.00) scale(0.1)"><text font-size="53.00" font-weight="bold" stroke="#111" stroke-width="2.20" fill="#111" textLength="184.0" lengthAdjust="spacingAndGlyphs">Kernel</text></g>
<g transform="translate(661.10,210.20) scale(0.1)"><text font-size="53.00" font-weight="bold" stroke="#111" stroke-width="2.20" fill="#111" textLength="104.0" lengthAdjust="spacingAndGlyphs">IQR</text></g>
<g transform="translate(552.77,227.10) scale(0.1)"><text font-size="61.61" textLength="192.8" lengthAdjust="spacingAndGlyphs">PCD-CT</text></g>
<g transform="translate(573.83,227.10) scale(0.1)"><text font-size="61.61" textLength="128.7" lengthAdjust="spacingAndGlyphs">Bv40</text></g>
<line x1="612.00" y1="227.30" x2="626.70" y2="227.30" stroke="#ff4a4a" stroke-width="1.2"/>
<path d="M607.90,227.30L612.00,222.80L616.10,227.30L612.00,231.80Z" fill="#ff0000"/>
<g transform="translate(617.37,223.00) scale(0.1)"><text font-size="61.61" textLength="114.7" lengthAdjust="spacingAndGlyphs">2.40</text></g>
<g transform="translate(651.20,228.00) scale(0.1)"><text font-size="61.61" textLength="114.7" lengthAdjust="spacingAndGlyphs">2.20</text></g>
<g transform="translate(664.44,228.00) scale(0.1)"><text font-size="61.61" textLength="21.8" lengthAdjust="spacingAndGlyphs">-</text></g>
<g transform="translate(668.40,228.00) scale(0.1)"><text font-size="61.61" textLength="114.7" lengthAdjust="spacingAndGlyphs">3.20</text></g>
<g transform="translate(552.77,248.00) scale(0.1)"><text font-size="61.61" textLength="192.8" lengthAdjust="spacingAndGlyphs">PCD-CT</text></g>
<g transform="translate(573.83,248.00) scale(0.1)"><text font-size="61.61" textLength="128.7" lengthAdjust="spacingAndGlyphs">Bv48</text></g>
<line x1="613.00" y1="247.30" x2="623.10" y2="247.30" stroke="#ff4a4a" stroke-width="1.2"/>
<path d="M619.00,247.30L623.10,242.80L627.20,247.30L623.10,251.80Z" fill="#ff0000"/>
<g transform="translate(618.07,243.20) scale(0.1)"><text font-size="61.61" textLength="114.7" lengthAdjust="spacingAndGlyphs">3.00</text></g>
<g transform="translate(650.80,247.80) scale(0.1)"><text font-size="61.61" textLength="114.7" lengthAdjust="spacingAndGlyphs">2.40</text></g>
<g transform="translate(664.04,247.80) scale(0.1)"><text font-size="61.61" textLength="21.8" lengthAdjust="spacingAndGlyphs">-</text></g>
<g transform="translate(668.00,247.80) scale(0.1)"><text font-size="61.61" textLength="114.7" lengthAdjust="spacingAndGlyphs">3.20</text></g>
<g transform="translate(552.77,268.90) scale(0.1)"><text font-size="61.61" textLength="192.8" lengthAdjust="spacingAndGlyphs">PCD-CT</text></g>
<g transform="translate(573.83,268.90) scale(0.1)"><text font-size="61.61" textLength="128.7" lengthAdjust="spacingAndGlyphs">Bv56</text></g>
<path d="M622.60,267.40L626.70,262.90L630.80,267.40L626.70,271.90Z" fill="#ff0000"/>
<g transform="translate(621.67,263.60) scale(0.1)"><text font-size="61.61" textLength="114.7" lengthAdjust="spacingAndGlyphs">3.20</text></g>
<g transform="translate(651.20,269.20) scale(0.1)"><text font-size="61.61" textLength="114.7" lengthAdjust="spacingAndGlyphs">3.30</text></g>
<g transform="translate(664.44,269.20) scale(0.1)"><text font-size="61.61" textLength="21.8" lengthAdjust="spacingAndGlyphs">-</text></g>
<g transform="translate(668.40,269.20) scale(0.1)"><text font-size="61.61" textLength="114.7" lengthAdjust="spacingAndGlyphs">3.40</text></g>
<g transform="translate(553.13,288.40) scale(0.1)"><text font-size="61.61" textLength="189.2" lengthAdjust="spacingAndGlyphs">EID-CT</text></g>
<g transform="translate(573.83,288.40) scale(0.1)"><text font-size="61.61" textLength="128.7" lengthAdjust="spacingAndGlyphs">Bv40</text></g>
<path d="M597.10,286.00L601.20,281.50L605.30,286.00L601.20,290.50Z" fill="#ff0000"/>
<g transform="translate(596.17,282.30) scale(0.1)"><text font-size="61.61" textLength="114.7" lengthAdjust="spacingAndGlyphs">1.80</text></g>
<g transform="translate(651.20,287.80) scale(0.1)"><text font-size="61.61" textLength="114.7" lengthAdjust="spacingAndGlyphs">1.60</text></g>
<g transform="translate(664.44,287.80) scale(0.1)"><text font-size="61.61" textLength="21.8" lengthAdjust="spacingAndGlyphs">-</text></g>
<g transform="translate(668.40,287.80) scale(0.1)"><text font-size="61.61" textLength="114.7" lengthAdjust="spacingAndGlyphs">2.00</text></g>
<line x1="586.70" y1="296.60" x2="649.65" y2="296.60" stroke="#222" stroke-width="1"/>
<line x1="587.20" y1="296.60" x2="587.20" y2="299.60" stroke="#222" stroke-width="0.9"/>
<g transform="translate(585.77,308.20) scale(0.1)"><text font-size="61.61" textLength="28.6" lengthAdjust="spacingAndGlyphs">1</text></g>
<line x1="596.05" y1="296.60" x2="596.05" y2="299.60" stroke="#222" stroke-width="0.9"/>
<g transform="translate(592.38,308.20) scale(0.1)"><text font-size="61.61" textLength="73.5" lengthAdjust="spacingAndGlyphs">1.5</text></g>
<line x1="604.90" y1="296.60" x2="604.90" y2="299.60" stroke="#222" stroke-width="0.9"/>
<g transform="translate(603.47,308.20) scale(0.1)"><text font-size="61.61" textLength="28.6" lengthAdjust="spacingAndGlyphs">2</text></g>
<line x1="613.75" y1="296.60" x2="613.75" y2="299.60" stroke="#222" stroke-width="0.9"/>
<g transform="translate(610.08,308.20) scale(0.1)"><text font-size="61.61" textLength="73.5" lengthAdjust="spacingAndGlyphs">2.5</text></g>
<line x1="622.60" y1="296.60" x2="622.60" y2="299.60" stroke="#222" stroke-width="0.9"/>
<g transform="translate(621.17,308.20) scale(0.1)"><text font-size="61.61" textLength="28.6" lengthAdjust="spacingAndGlyphs">3</text></g>
<line x1="631.45" y1="296.60" x2="631.45" y2="299.60" stroke="#222" stroke-width="0.9"/>
<g transform="translate(627.78,308.20) scale(0.1)"><text font-size="61.61" textLength="73.5" lengthAdjust="spacingAndGlyphs">3.5</text></g>
<line x1="640.30" y1="296.60" x2="640.30" y2="299.60" stroke="#222" stroke-width="0.9"/>
<g transform="translate(638.87,308.20) scale(0.1)"><text font-size="61.61" textLength="28.6" lengthAdjust="spacingAndGlyphs">4</text></g>
<line x1="649.15" y1="296.60" x2="649.15" y2="299.60" stroke="#222" stroke-width="0.9"/>
<g transform="translate(645.48,308.20) scale(0.1)"><text font-size="61.61" textLength="73.5" lengthAdjust="spacingAndGlyphs">4.5</text></g>
<rect x="608.50" y="313.50" width="33.00" height="8.00" fill="#fff" stroke="#4a4a4a" stroke-width="1"/>
<g transform="translate(614.40,319.00) scale(0.1)"><text font-size="54.00" font-weight="bold" stroke="#111" stroke-width="2.20" fill="#111" textLength="208.0" lengthAdjust="spacingAndGlyphs">p-value</text></g>
<g transform="translate(568.71,326.02) scale(0.1)"><text font-size="59.78" textLength="129.9" lengthAdjust="spacingAndGlyphs">Bv40</text></g>
<line x1="581.70" y1="323.97" x2="586.00" y2="323.97" stroke="#333" stroke-width="0.8"/>
<rect x="586.00" y="318.60" width="16.43" height="10.73" fill="#ffffff" stroke="none" stroke-width="1" shape-rendering="crispEdges"/>
<g transform="translate(568.71,336.75) scale(0.1)"><text font-size="59.78" textLength="129.9" lengthAdjust="spacingAndGlyphs">Bv48</text></g>
<line x1="581.70" y1="334.70" x2="586.00" y2="334.70" stroke="#333" stroke-width="0.8"/>
<rect x="586.00" y="329.33" width="16.43" height="10.73" fill="#a3a3a3" stroke="none" stroke-width="1" shape-rendering="crispEdges"/>
<rect x="602.43" y="329.33" width="16.43" height="10.73" fill="#ffffff" stroke="none" stroke-width="1" shape-rendering="crispEdges"/>
<g transform="translate(568.71,347.48) scale(0.1)"><text font-size="59.78" textLength="129.9" lengthAdjust="spacingAndGlyphs">Bv56</text></g>
<line x1="581.70" y1="345.43" x2="586.00" y2="345.43" stroke="#333" stroke-width="0.8"/>
<rect x="586.00" y="340.06" width="16.43" height="10.73" fill="#a3a3a3" stroke="none" stroke-width="1" shape-rendering="crispEdges"/>
<rect x="602.43" y="340.06" width="16.43" height="10.73" fill="#ffffff" stroke="none" stroke-width="1" shape-rendering="crispEdges"/>
<rect x="618.86" y="340.06" width="16.43" height="10.73" fill="#ffffff" stroke="none" stroke-width="1" shape-rendering="crispEdges"/>
<g transform="translate(558.41,358.21) scale(0.1)"><text font-size="59.78" textLength="95.1" lengthAdjust="spacingAndGlyphs">EID</text></g>
<g transform="translate(569.58,358.21) scale(0.1)"><text font-size="59.78" textLength="121.2" lengthAdjust="spacingAndGlyphs">Bv40</text></g>
<line x1="581.70" y1="356.16" x2="586.00" y2="356.16" stroke="#333" stroke-width="0.8"/>
<rect x="586.00" y="350.79" width="16.43" height="10.73" fill="#a3a3a3" stroke="none" stroke-width="1" shape-rendering="crispEdges"/>
<rect x="602.43" y="350.79" width="16.43" height="10.73" fill="#a3a3a3" stroke="none" stroke-width="1" shape-rendering="crispEdges"/>
<rect x="618.86" y="350.79" width="16.43" height="10.73" fill="#060606" stroke="none" stroke-width="1" shape-rendering="crispEdges"/>
<rect x="635.29" y="350.79" width="16.43" height="10.73" fill="#ffffff" stroke="none" stroke-width="1" shape-rendering="crispEdges"/>
<rect x="586.50" y="318.50" width="16.00" height="11.00" fill="none" stroke="#3c3c3c" stroke-width="1"/>
<line x1="586.50" y1="319.00" x2="586.50" y2="329.00" stroke="#909090" stroke-width="1"/>
<rect x="602.50" y="329.50" width="16.00" height="11.00" fill="none" stroke="#3c3c3c" stroke-width="1"/>
<rect x="602.50" y="340.50" width="16.00" height="10.00" fill="none" stroke="#3c3c3c" stroke-width="1"/>
<rect x="618.50" y="340.50" width="17.00" height="10.00" fill="none" stroke="#3c3c3c" stroke-width="1"/>
<rect x="635.50" y="350.50" width="16.00" height="11.00" fill="none" stroke="#3c3c3c" stroke-width="1"/>
<g transform="translate(592.66,326.02) scale(0.1)"><text font-size="59.78" textLength="31.1" lengthAdjust="spacingAndGlyphs">1</text></g>
<g transform="translate(590.21,336.75) scale(0.1)"><text font-size="59.78" textLength="80.1" lengthAdjust="spacingAndGlyphs">0.7</text></g>
<g transform="translate(609.09,336.75) scale(0.1)"><text font-size="59.78" textLength="31.1" lengthAdjust="spacingAndGlyphs">1</text></g>
<g transform="translate(588.65,347.48) scale(0.1)"><text font-size="59.78" textLength="111.3" lengthAdjust="spacingAndGlyphs">0.46</text></g>
<g transform="translate(609.09,347.48) scale(0.1)"><text font-size="59.78" textLength="31.1" lengthAdjust="spacingAndGlyphs">1</text></g>
<g transform="translate(625.52,347.48) scale(0.1)"><text font-size="59.78" textLength="31.1" lengthAdjust="spacingAndGlyphs">1</text></g>
<g transform="translate(587.09,358.21) scale(0.1)"><text font-size="59.78" textLength="142.4" lengthAdjust="spacingAndGlyphs">0.855</text></g>
<g transform="translate(605.08,358.21) scale(0.1)"><text font-size="59.78" textLength="111.3" lengthAdjust="spacingAndGlyphs">0.13</text></g>
<g transform="translate(621.51,358.21) scale(0.1)"><text font-size="59.78" fill="#ffffff" textLength="111.3" lengthAdjust="spacingAndGlyphs">0.07</text></g>
<g transform="translate(641.95,358.21) scale(0.1)"><text font-size="59.78" textLength="31.1" lengthAdjust="spacingAndGlyphs">1</text></g>
<line x1="594.22" y1="361.52" x2="594.22" y2="364.52" stroke="#333" stroke-width="0.8"/>
<g transform="translate(588.82,366.22) rotate(30) scale(0.1)"><text font-size="59.78" fill="#111" textLength="124.9" lengthAdjust="spacingAndGlyphs">Bv40</text></g>
<line x1="610.64" y1="361.52" x2="610.64" y2="364.52" stroke="#333" stroke-width="0.8"/>
<g transform="translate(605.25,366.22) rotate(30) scale(0.1)"><text font-size="59.78" fill="#111" textLength="124.9" lengthAdjust="spacingAndGlyphs">Bv48</text></g>
<line x1="627.08" y1="361.52" x2="627.08" y2="364.52" stroke="#333" stroke-width="0.8"/>
<g transform="translate(621.68,366.22) rotate(30) scale(0.1)"><text font-size="59.78" fill="#111" textLength="124.9" lengthAdjust="spacingAndGlyphs">Bv56</text></g>
<line x1="643.50" y1="361.52" x2="643.50" y2="364.52" stroke="#333" stroke-width="0.8"/>
<g transform="translate(638.11,366.22) rotate(30) scale(0.1)"><text font-size="59.78" fill="#111" textLength="240.1" lengthAdjust="spacingAndGlyphs">EID Bv40</text></g>
<line x1="154.00" y1="4.50" x2="154.00" y2="193.50" stroke="#b0b0b0" stroke-width="2"/>
<line x1="286.50" y1="4.50" x2="286.50" y2="193.50" stroke="#555" stroke-width="1.1"/>
<line x1="419.50" y1="4.50" x2="419.50" y2="193.50" stroke="#555" stroke-width="1.1"/>
<line x1="552.00" y1="4.50" x2="552.00" y2="193.50" stroke="#aaa" stroke-width="2"/>
<line x1="154.00" y1="193.50" x2="154.00" y2="382.50" stroke="#999" stroke-width="2"/>
<line x1="286.50" y1="193.50" x2="286.50" y2="382.50" stroke="#555" stroke-width="1.1"/>
<line x1="419.50" y1="193.50" x2="419.50" y2="382.50" stroke="#555" stroke-width="1.1"/>
<line x1="552.00" y1="193.50" x2="552.00" y2="382.50" stroke="#aaa" stroke-width="2"/>
<rect x="21.50" y="4.50" width="663.00" height="378.00" fill="none" stroke="#444" stroke-width="1"/>
<line x1="21.50" y1="193.50" x2="684.50" y2="193.50" stroke="#333" stroke-width="1"/>
<g transform="translate(-0.80,10.60) scale(0.1)"><text font-size="150.00" font-weight="bold" stroke="#000" stroke-width="2.20" fill="#000" textLength="88.0" lengthAdjust="spacingAndGlyphs">a</text></g>
<g transform="translate(9.40,10.90) scale(0.1)"><text font-size="150.00" font-weight="bold" stroke="#000" stroke-width="2.20" fill="#000" textLength="58.0" lengthAdjust="spacingAndGlyphs">)</text></g>
<g transform="translate(-0.80,199.60) scale(0.1)"><text font-size="150.00" font-weight="bold" stroke="#000" stroke-width="2.20" fill="#000" textLength="88.0" lengthAdjust="spacingAndGlyphs">b</text></g>
<g transform="translate(9.40,199.90) scale(0.1)"><text font-size="150.00" font-weight="bold" stroke="#000" stroke-width="2.20" fill="#000" textLength="58.0" lengthAdjust="spacingAndGlyphs">)</text></g>
</svg></body></html>
